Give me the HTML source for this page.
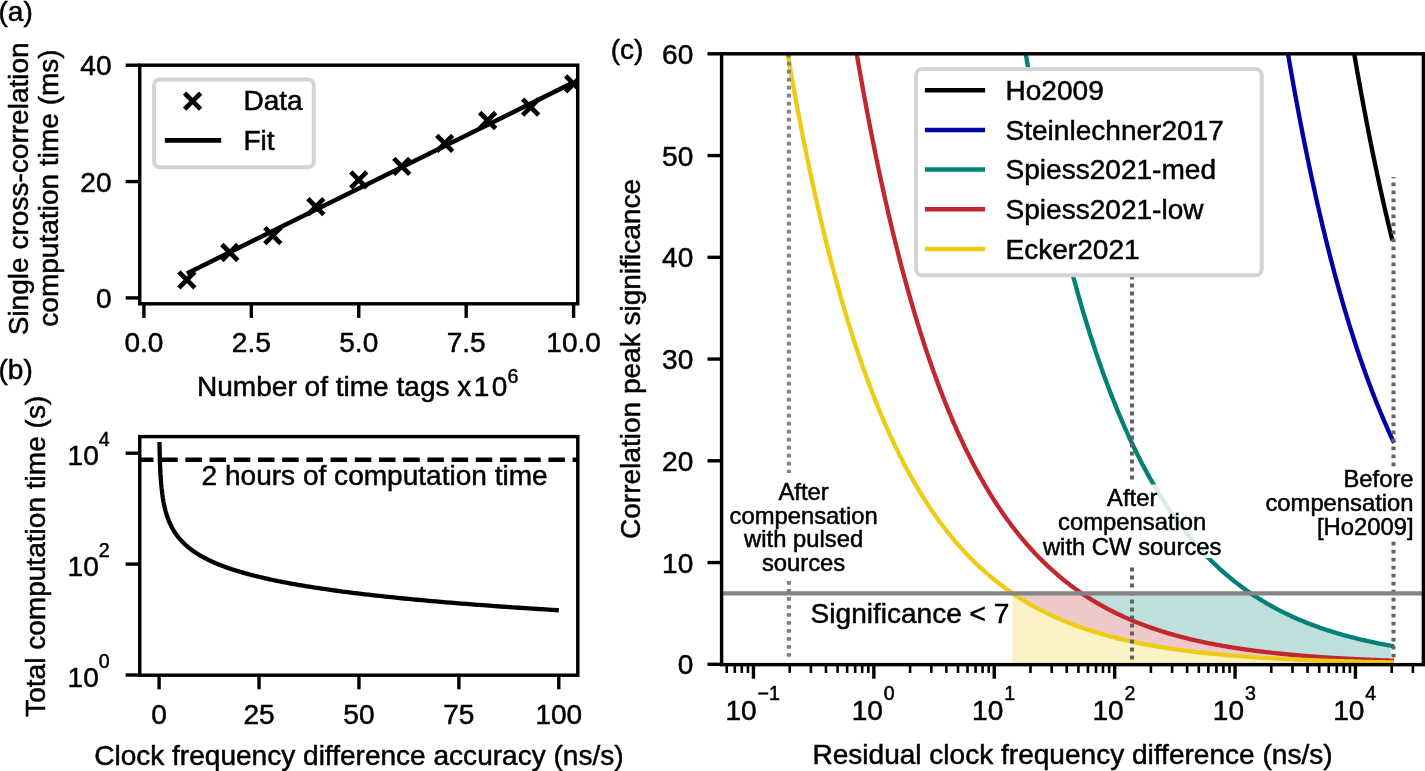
<!DOCTYPE html>
<html lang="en"><head><meta charset="utf-8"><title>Figure</title>
<style>
html,body{margin:0;padding:0;background:#fff;}
svg{display:block;will-change:transform;font-family:"Liberation Sans",sans-serif;fill:#000;}
text{stroke:#000;stroke-width:0.5px;}
</style></head><body>
<svg width="1425" height="771" viewBox="0 0 1425 771">
<rect width="1425" height="771" fill="#fff"/>
<g id="plot-a">
<clipPath id="ca"><rect x="139.75" y="65.2" width="437.95" height="238.60"/></clipPath><g clip-path="url(#ca)">
<line x1="186.87" y1="273.47" x2="573.60" y2="82.36" stroke="#000" stroke-width="4.5" />
<path d="M178.87 271.87L194.87 287.87M178.87 287.87L194.87 271.87" stroke="#000" stroke-width="4.7" fill="none"/>
<path d="M221.84 244.52L237.84 260.52M221.84 260.52L237.84 244.52" stroke="#000" stroke-width="4.7" fill="none"/>
<path d="M264.81 227.65L280.81 243.65M264.81 243.65L280.81 227.65" stroke="#000" stroke-width="4.7" fill="none"/>
<path d="M307.78 198.57L323.78 214.57M307.78 214.57L323.78 198.57" stroke="#000" stroke-width="4.7" fill="none"/>
<path d="M350.75 171.80L366.75 187.80M350.75 187.80L366.75 171.80" stroke="#000" stroke-width="4.7" fill="none"/>
<path d="M393.72 158.42L409.72 174.42M393.72 174.42L409.72 158.42" stroke="#000" stroke-width="4.7" fill="none"/>
<path d="M436.69 135.45L452.69 151.45M436.69 151.45L452.69 135.45" stroke="#000" stroke-width="4.7" fill="none"/>
<path d="M479.66 112.47L495.66 128.47M479.66 128.47L495.66 112.47" stroke="#000" stroke-width="4.7" fill="none"/>
<path d="M522.63 99.09L538.63 115.09M522.63 115.09L538.63 99.09" stroke="#000" stroke-width="4.7" fill="none"/>
<path d="M565.60 75.82L581.60 91.82M565.60 91.82L581.60 75.82" stroke="#000" stroke-width="4.7" fill="none"/>
</g>
<line x1="143.90" y1="303.80" x2="143.90" y2="317.90" stroke="#000" stroke-width="3.4" />
<text x="143.90" y="351.80" font-size="28.05" text-anchor="middle" >0.0</text>
<line x1="251.32" y1="303.80" x2="251.32" y2="317.90" stroke="#000" stroke-width="3.4" />
<text x="251.32" y="351.80" font-size="28.05" text-anchor="middle" >2.5</text>
<line x1="358.75" y1="303.80" x2="358.75" y2="317.90" stroke="#000" stroke-width="3.4" />
<text x="358.75" y="351.80" font-size="28.05" text-anchor="middle" >5.0</text>
<line x1="466.17" y1="303.80" x2="466.17" y2="317.90" stroke="#000" stroke-width="3.4" />
<text x="466.17" y="351.80" font-size="28.05" text-anchor="middle" >7.5</text>
<line x1="573.60" y1="303.80" x2="573.60" y2="317.90" stroke="#000" stroke-width="3.4" />
<text x="573.60" y="351.80" font-size="28.05" text-anchor="middle" >10.0</text>
<line x1="125.65" y1="297.90" x2="139.75" y2="297.90" stroke="#000" stroke-width="3.4" />
<text x="111.50" y="307.90" font-size="28.05" text-anchor="end" >0</text>
<line x1="125.65" y1="181.55" x2="139.75" y2="181.55" stroke="#000" stroke-width="3.4" />
<text x="111.50" y="191.55" font-size="28.05" text-anchor="end" >20</text>
<line x1="125.65" y1="65.20" x2="139.75" y2="65.20" stroke="#000" stroke-width="3.4" />
<text x="111.50" y="75.20" font-size="28.05" text-anchor="end" >40</text>
<rect x="139.75" y="65.2" width="437.95" height="238.60" fill="none" stroke="#000" stroke-width="3.45"/>
<rect x="154.0" y="79.4" width="159.8" height="87.9" rx="6" fill="#fff" stroke="#d3d3d3" stroke-width="4.0"/>
<path d="M184.60 93.10L200.60 109.10M184.60 109.10L200.60 93.10" stroke="#000" stroke-width="4.7" fill="none"/>
<line x1="164.80" y1="140.40" x2="221.20" y2="140.40" stroke="#000" stroke-width="4.9" />
<text x="243.40" y="110.30" font-size="28.05" text-anchor="start" >Data</text>
<text x="243.40" y="150.30" font-size="28.05" text-anchor="start" >Fit</text>
<text x="197" y="396.2" font-size="28.05">Number of time tags <tspan dx="0">x</tspan><tspan dx="2.5">1</tspan><tspan dx="2.2">0</tspan><tspan dx="0.3" dy="-12.8" font-size="19.6">6</tspan></text>
<text transform="translate(27.80,188.80) rotate(-90)" font-size="28.05" text-anchor="middle">Single cross-correlation</text>
<text transform="translate(58.40,188.00) rotate(-90)" font-size="28.05" text-anchor="middle">computation time (ms)</text>
<text x="-1.50" y="20.90" font-size="28.05" text-anchor="start" >(a)</text>
</g>
<g id="plot-b">
<clipPath id="cb"><rect x="139.75" y="436.6" width="438.05" height="238.60"/></clipPath>
<line x1="137.00" y1="459.80" x2="577.80" y2="459.80" stroke="#000" stroke-width="4.5" stroke-dasharray="16.5 7.7" clip-path="url(#cb)"/>
<polyline fill="none" stroke="#000" stroke-width="4.3" stroke-linejoin="round" points="159.47,441.98 159.48,442.40 159.48,442.82 159.49,443.24 159.50,443.66 159.50,444.09 159.51,444.51 159.52,444.93 159.52,445.35 159.53,445.77 159.54,446.19 159.55,446.61 159.55,447.03 159.56,447.45 159.57,447.87 159.58,448.29 159.59,448.71 159.60,449.13 159.61,449.55 159.61,449.98 159.62,450.40 159.63,450.82 159.64,451.24 159.65,451.66 159.66,452.08 159.67,452.50 159.68,452.92 159.69,453.34 159.70,453.76 159.71,454.18 159.72,454.60 159.73,455.02 159.74,455.44 159.76,455.87 159.77,456.29 159.78,456.71 159.79,457.13 159.80,457.55 159.82,457.97 159.83,458.39 159.84,458.81 159.85,459.23 159.87,459.65 159.88,460.07 159.90,460.49 159.91,460.91 159.92,461.33 159.94,461.76 159.95,462.18 159.97,462.60 159.98,463.02 160.00,463.44 160.01,463.86 160.03,464.28 160.05,464.70 160.06,465.12 160.08,465.54 160.10,465.96 160.12,466.38 160.13,466.80 160.15,467.23 160.17,467.65 160.19,468.07 160.21,468.49 160.23,468.91 160.25,469.33 160.27,469.75 160.29,470.17 160.31,470.59 160.33,471.01 160.35,471.43 160.37,471.85 160.40,472.27 160.42,472.69 160.44,473.12 160.47,473.54 160.49,473.96 160.52,474.38 160.54,474.80 160.57,475.22 160.59,475.64 160.62,476.06 160.64,476.48 160.67,476.90 160.70,477.32 160.73,477.74 160.76,478.16 160.79,478.58 160.82,479.01 160.85,479.43 160.88,479.85 160.91,480.27 160.94,480.69 160.97,481.11 161.01,481.53 161.04,481.95 161.07,482.37 161.11,482.79 161.14,483.21 161.18,483.63 161.22,484.05 161.25,484.47 161.29,484.90 161.33,485.32 161.37,485.74 161.41,486.16 161.45,486.58 161.49,487.00 161.53,487.42 161.58,487.84 161.62,488.26 161.66,488.68 161.71,489.10 161.76,489.52 161.80,489.94 161.85,490.37 161.90,490.79 161.95,491.21 162.00,491.63 162.05,492.05 162.10,492.47 162.15,492.89 162.21,493.31 162.26,493.73 162.32,494.15 162.37,494.57 162.43,494.99 162.49,495.41 162.55,495.83 162.61,496.26 162.67,496.68 162.74,497.10 162.80,497.52 162.87,497.94 162.93,498.36 163.00,498.78 163.07,499.20 163.14,499.62 163.21,500.04 163.28,500.46 163.36,500.88 163.43,501.30 163.51,501.72 163.58,502.15 163.66,502.57 163.74,502.99 163.83,503.41 163.91,503.83 163.99,504.25 164.08,504.67 164.17,505.09 164.26,505.51 164.35,505.93 164.44,506.35 164.54,506.77 164.63,507.19 164.73,507.61 164.83,508.04 164.93,508.46 165.03,508.88 165.14,509.30 165.24,509.72 165.35,510.14 165.46,510.56 165.57,510.98 165.69,511.40 165.80,511.82 165.92,512.24 166.04,512.66 166.16,513.08 166.29,513.51 166.41,513.93 166.54,514.35 166.67,514.77 166.81,515.19 166.94,515.61 167.08,516.03 167.22,516.45 167.37,516.87 167.51,517.29 167.66,517.71 167.81,518.13 167.96,518.55 168.12,518.97 168.28,519.40 168.44,519.82 168.61,520.24 168.77,520.66 168.94,521.08 169.12,521.50 169.29,521.92 169.47,522.34 169.66,522.76 169.84,523.18 170.03,523.60 170.22,524.02 170.42,524.44 170.62,524.86 170.82,525.29 171.03,525.71 171.24,526.13 171.45,526.55 171.67,526.97 171.89,527.39 172.12,527.81 172.35,528.23 172.58,528.65 172.82,529.07 173.06,529.49 173.31,529.91 173.56,530.33 173.81,530.75 174.07,531.18 174.34,531.60 174.60,532.02 174.88,532.44 175.16,532.86 175.44,533.28 175.73,533.70 176.02,534.12 176.32,534.54 176.62,534.96 176.93,535.38 177.24,535.80 177.56,536.22 177.89,536.65 178.22,537.07 178.56,537.49 178.90,537.91 179.25,538.33 179.60,538.75 179.97,539.17 180.33,539.59 180.71,540.01 181.09,540.43 181.48,540.85 181.87,541.27 182.27,541.69 182.68,542.11 183.10,542.54 183.52,542.96 183.95,543.38 184.39,543.80 184.83,544.22 185.29,544.64 185.75,545.06 186.22,545.48 186.70,545.90 187.18,546.32 187.68,546.74 188.18,547.16 188.69,547.58 189.22,548.00 189.75,548.43 190.29,548.85 190.84,549.27 191.39,549.69 191.96,550.11 192.54,550.53 193.13,550.95 193.73,551.37 194.34,551.79 194.96,552.21 195.60,552.63 196.24,553.05 196.89,553.47 197.56,553.89 198.24,554.32 198.93,554.74 199.63,555.16 200.34,555.58 201.07,556.00 201.81,556.42 202.56,556.84 203.33,557.26 204.11,557.68 204.90,558.10 205.71,558.52 206.53,558.94 207.37,559.36 208.22,559.79 209.08,560.21 209.96,560.63 210.86,561.05 211.77,561.47 212.70,561.89 213.65,562.31 214.61,562.73 215.59,563.15 216.58,563.57 217.59,563.99 218.62,564.41 219.67,564.83 220.74,565.25 221.83,565.68 222.93,566.10 224.06,566.52 225.20,566.94 226.37,567.36 227.55,567.78 228.76,568.20 229.99,568.62 231.24,569.04 232.51,569.46 233.80,569.88 235.12,570.30 236.46,570.72 237.82,571.14 239.21,571.57 240.62,571.99 242.06,572.41 243.52,572.83 245.01,573.25 246.52,573.67 248.06,574.09 249.63,574.51 251.23,574.93 252.85,575.35 254.50,575.77 256.18,576.19 257.89,576.61 259.64,577.03 261.41,577.46 263.21,577.88 265.05,578.30 266.91,578.72 268.81,579.14 270.75,579.56 272.71,579.98 274.72,580.40 276.75,580.82 278.83,581.24 280.94,581.66 283.09,582.08 285.27,582.50 287.49,582.93 289.76,583.35 292.06,583.77 294.40,584.19 296.79,584.61 299.21,585.03 301.68,585.45 304.20,585.87 306.75,586.29 309.36,586.71 312.00,587.13 314.70,587.55 317.44,587.97 320.23,588.39 323.07,588.82 325.96,589.24 328.90,589.66 331.90,590.08 334.94,590.50 338.04,590.92 341.19,591.34 344.40,591.76 347.67,592.18 350.99,592.60 354.38,593.02 357.82,593.44 361.32,593.86 364.88,594.28 368.51,594.71 372.20,595.13 375.96,595.55 379.78,595.97 383.67,596.39 387.63,596.81 391.65,597.23 395.75,597.65 399.92,598.07 404.17,598.49 408.49,598.91 412.88,599.33 417.35,599.75 421.91,600.17 426.54,600.60 431.25,601.02 436.05,601.44 440.93,601.86 445.90,602.28 450.95,602.70 456.09,603.12 461.33,603.54 466.65,603.96 472.07,604.38 477.59,604.80 483.20,605.22 488.92,605.64 494.73,606.06 500.64,606.49 506.66,606.91 512.79,607.33 519.02,607.75 525.37,608.17 531.82,608.59 538.39,609.01 545.07,609.43 551.88,609.85 558.80,610.27"/>
<line x1="159.10" y1="675.20" x2="159.10" y2="689.30" stroke="#000" stroke-width="3.4" />
<text x="159.10" y="723.60" font-size="28.05" text-anchor="middle" >0</text>
<line x1="259.02" y1="675.20" x2="259.02" y2="689.30" stroke="#000" stroke-width="3.4" />
<text x="259.02" y="723.60" font-size="28.05" text-anchor="middle" >25</text>
<line x1="358.95" y1="675.20" x2="358.95" y2="689.30" stroke="#000" stroke-width="3.4" />
<text x="358.95" y="723.60" font-size="28.05" text-anchor="middle" >50</text>
<line x1="458.88" y1="675.20" x2="458.88" y2="689.30" stroke="#000" stroke-width="3.4" />
<text x="458.88" y="723.60" font-size="28.05" text-anchor="middle" >75</text>
<line x1="558.80" y1="675.20" x2="558.80" y2="689.30" stroke="#000" stroke-width="3.4" />
<text x="558.80" y="723.60" font-size="28.05" text-anchor="middle" >100</text>
<line x1="125.65" y1="675.00" x2="139.75" y2="675.00" stroke="#000" stroke-width="3.4" />
<text x="98.8" y="687.00" font-size="28.05" text-anchor="end">10</text><text x="98.7" y="667.50" font-size="19.6">0</text>
<line x1="125.65" y1="564.10" x2="139.75" y2="564.10" stroke="#000" stroke-width="3.4" />
<text x="98.8" y="576.10" font-size="28.05" text-anchor="end">10</text><text x="98.7" y="556.60" font-size="19.6">2</text>
<line x1="125.65" y1="453.20" x2="139.75" y2="453.20" stroke="#000" stroke-width="3.4" />
<text x="98.8" y="465.20" font-size="28.05" text-anchor="end">10</text><text x="98.7" y="445.70" font-size="19.6">4</text>
<rect x="139.75" y="436.6" width="438.05" height="238.60" fill="none" stroke="#000" stroke-width="3.45"/>
<text x="201.60" y="485.20" font-size="28.05" text-anchor="start" >2 hours of computation time</text>
<text x="358.90" y="764.80" font-size="28.05" text-anchor="middle" >Clock frequency difference accuracy (ns/s)</text>
<text transform="translate(44.60,556.30) rotate(-90)" font-size="28.05" text-anchor="middle">Total computation time (s)</text>
<text x="-1.50" y="379.40" font-size="28.05" text-anchor="start" >(b)</text>
</g>
<g id="plot-c">
<clipPath id="cc"><rect x="721.6" y="53.8" width="701.80" height="610.85"/></clipPath>
<g clip-path="url(#cc)">
<polygon fill="#eecc16" fill-opacity="0.25" points="1012.32,593.07 717.33,593.07 718.45,593.07 719.57,593.07 720.70,593.07 721.82,593.07 722.94,593.07 724.06,593.07 725.19,593.07 726.31,593.07 727.43,593.07 728.55,593.07 729.68,593.07 730.80,593.07 731.92,593.07 733.04,593.07 734.16,593.07 735.29,593.07 736.41,593.07 737.53,593.07 738.65,593.07 739.78,593.07 740.90,593.07 742.02,593.07 743.14,593.07 744.26,593.07 745.39,593.07 746.51,593.07 747.63,593.07 748.75,593.07 749.88,593.07 751.00,593.07 752.12,593.07 753.24,593.07 754.37,593.07 755.49,593.07 756.61,593.07 757.73,593.07 758.85,593.07 759.98,593.07 761.10,593.07 762.22,593.07 763.34,593.07 764.47,593.07 765.59,593.07 766.71,593.07 767.83,593.07 768.96,593.07 770.08,593.07 771.20,593.07 772.32,593.07 773.44,593.07 774.57,593.07 775.69,593.07 776.81,593.07 777.93,593.07 779.06,593.07 780.18,593.07 781.30,593.07 782.42,593.07 783.54,593.07 784.67,593.07 785.79,593.07 786.91,593.07 788.03,593.07 789.16,593.07 790.28,593.07 791.40,593.07 792.52,593.07 793.65,593.07 794.77,593.07 795.89,593.07 797.01,593.07 798.13,593.07 799.26,593.07 800.38,593.07 801.50,593.07 802.62,593.07 803.75,593.07 804.87,593.07 805.99,593.07 807.11,593.07 808.23,593.07 809.36,593.07 810.48,593.07 811.60,593.07 812.72,593.07 813.85,593.07 814.97,593.07 816.09,593.07 817.21,593.07 818.34,593.07 819.46,593.07 820.58,593.07 821.70,593.07 822.82,593.07 823.95,593.07 825.07,593.07 826.19,593.07 827.31,593.07 828.44,593.07 829.56,593.07 830.68,593.07 831.80,593.07 832.93,593.07 834.05,593.07 835.17,593.07 836.29,593.07 837.41,593.07 838.54,593.07 839.66,593.07 840.78,593.07 841.90,593.07 843.03,593.07 844.15,593.07 845.27,593.07 846.39,593.07 847.51,593.07 848.64,593.07 849.76,593.07 850.88,593.07 852.00,593.07 853.13,593.07 854.25,593.07 855.37,593.07 856.49,593.07 857.62,593.07 858.74,593.07 859.86,593.07 860.98,593.07 862.10,593.07 863.23,593.07 864.35,593.07 865.47,593.07 866.59,593.07 867.72,593.07 868.84,593.07 869.96,593.07 871.08,593.07 872.21,593.07 873.33,593.07 874.45,593.07 875.57,593.07 876.69,593.07 877.82,593.07 878.94,593.07 880.06,593.07 881.18,593.07 882.31,593.07 883.43,593.07 884.55,593.07 885.67,593.07 886.79,593.07 887.92,593.07 889.04,593.07 890.16,593.07 891.28,593.07 892.41,593.07 893.53,593.07 894.65,593.07 895.77,593.07 896.90,593.07 898.02,593.07 899.14,593.07 900.26,593.07 901.38,593.07 902.51,593.07 903.63,593.07 904.75,593.07 905.87,593.07 907.00,593.07 908.12,593.07 909.24,593.07 910.36,593.07 911.49,593.07 912.61,593.07 913.73,593.07 914.85,593.07 915.97,593.07 917.10,593.07 918.22,593.07 919.34,593.07 920.46,593.07 921.59,593.07 922.71,593.07 923.83,593.07 924.95,593.07 926.07,593.07 927.20,593.07 928.32,593.07 929.44,593.07 930.56,593.07 931.69,593.07 932.81,593.07 933.93,593.07 935.05,593.07 936.18,593.07 937.30,593.07 938.42,593.07 939.54,593.07 940.66,593.07 941.79,593.07 942.91,593.07 944.03,593.07 945.15,593.07 946.28,593.07 947.40,593.07 948.52,593.07 949.64,593.07 950.76,593.07 951.89,593.07 953.01,593.07 954.13,593.07 955.25,593.07 956.38,593.07 957.50,593.07 958.62,593.07 959.74,593.07 960.87,593.07 961.99,593.07 963.11,593.07 964.23,593.07 965.35,593.07 966.48,593.07 967.60,593.07 968.72,593.07 969.84,593.07 970.97,593.07 972.09,593.07 973.21,593.07 974.33,593.07 975.46,593.07 976.58,593.07 977.70,593.07 978.82,593.07 979.94,593.07 981.07,593.07 982.19,593.07 983.31,593.07 984.43,593.07 985.56,593.07 986.68,593.07 987.80,593.07 988.92,593.07 990.04,593.07 991.17,593.07 992.29,593.07 993.41,593.07 994.53,593.07 995.66,593.07 996.78,593.07 997.90,593.07 999.02,593.07 1000.15,593.07 1001.27,593.07 1002.39,593.07 1003.51,593.07 1004.63,593.07 1005.76,593.07 1006.88,593.07 1008.00,593.07 1009.12,593.07 1010.25,593.07 1011.37,593.07 1012.49,593.19 1013.61,593.95 1014.74,594.70 1015.86,595.45 1016.98,596.18 1018.10,596.91 1019.22,597.63 1020.35,598.34 1021.47,599.04 1022.59,599.74 1023.71,600.43 1024.84,601.11 1025.96,601.79 1027.08,602.45 1028.20,603.11 1029.32,603.77 1030.45,604.41 1031.57,605.05 1032.69,605.68 1033.81,606.31 1034.94,606.93 1036.06,607.54 1037.18,608.15 1038.30,608.75 1039.43,609.34 1040.55,609.93 1041.67,610.51 1042.79,611.08 1043.91,611.65 1045.04,612.21 1046.16,612.77 1047.28,613.32 1048.40,613.86 1049.53,614.40 1050.65,614.93 1051.77,615.46 1052.89,615.98 1054.02,616.50 1055.14,617.01 1056.26,617.51 1057.38,618.01 1058.50,618.50 1059.63,618.99 1060.75,619.48 1061.87,619.96 1062.99,620.43 1064.12,620.90 1065.24,621.36 1066.36,621.82 1067.48,622.27 1068.60,622.72 1069.73,623.16 1070.85,623.60 1071.97,624.04 1073.09,624.47 1074.22,624.89 1075.34,625.31 1076.46,625.73 1077.58,626.14 1078.71,626.55 1079.83,626.95 1080.95,627.35 1082.07,627.75 1083.19,628.14 1084.32,628.52 1085.44,628.90 1086.56,629.28 1087.68,629.65 1088.81,630.02 1089.93,630.39 1091.05,630.75 1092.17,631.11 1093.29,631.46 1094.42,631.82 1095.54,632.16 1096.66,632.51 1097.78,632.84 1098.91,633.18 1100.03,633.51 1101.15,633.84 1102.27,634.17 1103.40,634.49 1104.52,634.81 1105.64,635.12 1106.76,635.43 1107.88,635.74 1109.01,636.05 1110.13,636.35 1111.25,636.65 1112.37,636.94 1113.50,637.23 1114.62,637.52 1115.74,637.81 1116.86,638.09 1117.99,638.37 1119.11,638.65 1120.23,638.92 1121.35,639.19 1122.47,639.46 1123.60,639.72 1124.72,639.99 1125.84,640.25 1126.96,640.50 1128.09,640.76 1129.21,641.01 1130.33,641.26 1131.45,641.50 1132.57,641.75 1133.70,641.99 1134.82,642.23 1135.94,642.46 1137.06,642.69 1138.19,642.92 1139.31,643.15 1140.43,643.38 1141.55,643.60 1142.68,643.82 1143.80,644.04 1144.92,644.26 1146.04,644.47 1147.16,644.68 1148.29,644.89 1149.41,645.10 1150.53,645.30 1151.65,645.51 1152.78,645.71 1153.90,645.91 1155.02,646.10 1156.14,646.30 1157.27,646.49 1158.39,646.68 1159.51,646.87 1160.63,647.05 1161.75,647.24 1162.88,647.42 1164.00,647.60 1165.12,647.78 1166.24,647.95 1167.37,648.13 1168.49,648.30 1169.61,648.47 1170.73,648.64 1171.85,648.81 1172.98,648.97 1174.10,649.14 1175.22,649.30 1176.34,649.46 1177.47,649.62 1178.59,649.77 1179.71,649.93 1180.83,650.08 1181.96,650.23 1183.08,650.38 1184.20,650.53 1185.32,650.68 1186.44,650.83 1187.57,650.97 1188.69,651.11 1189.81,651.25 1190.93,651.39 1192.06,651.53 1193.18,651.67 1194.30,651.80 1195.42,651.93 1196.54,652.07 1197.67,652.20 1198.79,652.33 1199.91,652.45 1201.03,652.58 1202.16,652.71 1203.28,652.83 1204.40,652.95 1205.52,653.07 1206.65,653.19 1207.77,653.31 1208.89,653.43 1210.01,653.54 1211.13,653.66 1212.26,653.77 1213.38,653.89 1214.50,654.00 1215.62,654.11 1216.75,654.22 1217.87,654.32 1218.99,654.43 1220.11,654.53 1221.24,654.64 1222.36,654.74 1223.48,654.84 1224.60,654.95 1225.72,655.04 1226.85,655.14 1227.97,655.24 1229.09,655.34 1230.21,655.43 1231.34,655.53 1232.46,655.62 1233.58,655.71 1234.70,655.81 1235.82,655.90 1236.95,655.99 1238.07,656.08 1239.19,656.16 1240.31,656.25 1241.44,656.34 1242.56,656.42 1243.68,656.51 1244.80,656.59 1245.93,656.67 1247.05,656.75 1248.17,656.83 1249.29,656.91 1250.41,656.99 1251.54,657.07 1252.66,657.15 1253.78,657.22 1254.90,657.30 1256.03,657.37 1257.15,657.45 1258.27,657.52 1259.39,657.59 1260.52,657.66 1261.64,657.73 1262.76,657.80 1263.88,657.87 1265.00,657.94 1266.13,658.01 1267.25,658.08 1268.37,658.14 1269.49,658.21 1270.62,658.27 1271.74,658.34 1272.86,658.40 1273.98,658.47 1275.10,658.53 1276.23,658.59 1277.35,658.65 1278.47,658.71 1279.59,658.77 1280.72,658.83 1281.84,658.89 1282.96,658.95 1284.08,659.00 1285.21,659.06 1286.33,659.12 1287.45,659.17 1288.57,659.23 1289.69,659.28 1290.82,659.33 1291.94,659.39 1293.06,659.44 1294.18,659.49 1295.31,659.54 1296.43,659.59 1297.55,659.64 1298.67,659.69 1299.80,659.74 1300.92,659.79 1302.04,659.84 1303.16,659.89 1304.28,659.93 1305.41,659.98 1306.53,660.03 1307.65,660.07 1308.77,660.12 1309.90,660.16 1311.02,660.21 1312.14,660.25 1313.26,660.29 1314.38,660.34 1315.51,660.38 1316.63,660.42 1317.75,660.46 1318.87,660.50 1320.00,660.54 1321.12,660.58 1322.24,660.62 1323.36,660.66 1324.49,660.70 1325.61,660.74 1326.73,660.78 1327.85,660.81 1328.97,660.85 1330.10,660.89 1331.22,660.92 1332.34,660.96 1333.46,661.00 1334.59,661.03 1335.71,661.07 1336.83,661.10 1337.95,661.14 1339.07,661.17 1340.20,661.20 1341.32,661.24 1342.44,661.27 1343.56,661.30 1344.69,661.33 1345.81,661.36 1346.93,661.40 1348.05,661.43 1349.18,661.46 1350.30,661.49 1351.42,661.52 1352.54,661.55 1353.66,661.58 1354.79,661.61 1355.91,661.63 1357.03,661.66 1358.15,661.69 1359.28,661.72 1360.40,661.75 1361.52,661.77 1362.64,661.80 1363.77,661.83 1364.89,661.85 1366.01,661.88 1367.13,661.91 1368.25,661.93 1369.38,661.96 1370.50,661.98 1371.62,662.01 1372.74,662.03 1373.87,662.06 1374.99,662.08 1376.11,662.10 1377.23,662.13 1378.35,662.15 1379.48,662.17 1380.60,662.20 1381.72,662.22 1382.84,662.24 1383.97,662.26 1385.09,662.28 1386.21,662.31 1387.33,662.33 1388.46,662.35 1389.58,662.37 1390.70,662.39 1390.70,664.30 1012.32,664.30"/>
<polygon fill="#c1272d" fill-opacity="0.25" points="1012.32,593.07 1012.49,593.07 1013.61,593.07 1014.74,593.07 1015.86,593.07 1016.98,593.07 1018.10,593.07 1019.22,593.07 1020.35,593.07 1021.47,593.07 1022.59,593.07 1023.71,593.07 1024.84,593.07 1025.96,593.07 1027.08,593.07 1028.20,593.07 1029.32,593.07 1030.45,593.07 1031.57,593.07 1032.69,593.07 1033.81,593.07 1034.94,593.07 1036.06,593.07 1037.18,593.07 1038.30,593.07 1039.43,593.07 1040.55,593.07 1041.67,593.07 1042.79,593.07 1043.91,593.07 1045.04,593.07 1046.16,593.07 1047.28,593.07 1048.40,593.07 1049.53,593.07 1050.65,593.07 1051.77,593.07 1052.89,593.07 1054.02,593.07 1055.14,593.07 1056.26,593.07 1057.38,593.07 1058.50,593.07 1059.63,593.07 1060.75,593.07 1061.87,593.07 1062.99,593.07 1064.12,593.07 1065.24,593.07 1066.36,593.07 1067.48,593.07 1068.60,593.07 1069.73,593.07 1070.85,593.07 1071.97,593.07 1073.09,593.07 1074.22,593.07 1075.34,593.07 1076.46,593.07 1077.58,593.07 1078.71,593.07 1079.83,593.07 1080.95,593.07 1082.07,593.54 1083.19,594.29 1084.32,595.04 1085.44,595.78 1086.56,596.51 1087.68,597.24 1088.81,597.95 1089.93,598.66 1091.05,599.36 1092.17,600.05 1093.29,600.74 1094.42,601.42 1095.54,602.09 1096.66,602.75 1097.78,603.41 1098.91,604.06 1100.03,604.70 1101.15,605.34 1102.27,605.97 1103.40,606.59 1104.52,607.21 1105.64,607.82 1106.76,608.42 1107.88,609.02 1109.01,609.61 1110.13,610.19 1111.25,610.77 1112.37,611.34 1113.50,611.90 1114.62,612.46 1115.74,613.02 1116.86,613.56 1117.99,614.11 1119.11,614.64 1120.23,615.17 1121.35,615.70 1122.47,616.21 1123.60,616.73 1124.72,617.24 1125.84,617.74 1126.96,618.23 1128.09,618.73 1129.21,619.21 1130.33,619.69 1131.45,620.17 1132.57,620.64 1133.70,621.11 1134.82,621.57 1135.94,622.02 1137.06,622.48 1138.19,622.92 1139.31,623.36 1140.43,623.80 1141.55,624.23 1142.68,624.66 1143.80,625.08 1144.92,625.50 1146.04,625.92 1147.16,626.33 1148.29,626.73 1149.41,627.13 1150.53,627.53 1151.65,627.92 1152.78,628.31 1153.90,628.69 1155.02,629.07 1156.14,629.45 1157.27,629.82 1158.39,630.19 1159.51,630.55 1160.63,630.91 1161.75,631.27 1162.88,631.62 1164.00,631.97 1165.12,632.32 1166.24,632.66 1167.37,633.00 1168.49,633.33 1169.61,633.66 1170.73,633.99 1171.85,634.31 1172.98,634.63 1174.10,634.95 1175.22,635.26 1176.34,635.57 1177.47,635.88 1178.59,636.18 1179.71,636.48 1180.83,636.78 1181.96,637.07 1183.08,637.36 1184.20,637.65 1185.32,637.94 1186.44,638.22 1187.57,638.50 1188.69,638.77 1189.81,639.04 1190.93,639.31 1192.06,639.58 1193.18,639.84 1194.30,640.10 1195.42,640.36 1196.54,640.62 1197.67,640.87 1198.79,641.12 1199.91,641.37 1201.03,641.61 1202.16,641.86 1203.28,642.10 1204.40,642.33 1205.52,642.57 1206.65,642.80 1207.77,643.03 1208.89,643.26 1210.01,643.48 1211.13,643.70 1212.26,643.92 1213.38,644.14 1214.50,644.35 1215.62,644.57 1216.75,644.78 1217.87,644.99 1218.99,645.19 1220.11,645.40 1221.24,645.60 1222.36,645.80 1223.48,646.00 1224.60,646.19 1225.72,646.38 1226.85,646.58 1227.97,646.76 1229.09,646.95 1230.21,647.14 1231.34,647.32 1232.46,647.50 1233.58,647.68 1234.70,647.86 1235.82,648.03 1236.95,648.21 1238.07,648.38 1239.19,648.55 1240.31,648.72 1241.44,648.88 1242.56,649.05 1243.68,649.21 1244.80,649.37 1245.93,649.53 1247.05,649.69 1248.17,649.84 1249.29,650.00 1250.41,650.15 1251.54,650.30 1252.66,650.45 1253.78,650.60 1254.90,650.75 1256.03,650.89 1257.15,651.03 1258.27,651.18 1259.39,651.32 1260.52,651.45 1261.64,651.59 1262.76,651.73 1263.88,651.86 1265.00,651.99 1266.13,652.13 1267.25,652.26 1268.37,652.38 1269.49,652.51 1270.62,652.64 1271.74,652.76 1272.86,652.88 1273.98,653.01 1275.10,653.13 1276.23,653.25 1277.35,653.36 1278.47,653.48 1279.59,653.60 1280.72,653.71 1281.84,653.82 1282.96,653.94 1284.08,654.05 1285.21,654.16 1286.33,654.26 1287.45,654.37 1288.57,654.48 1289.69,654.58 1290.82,654.69 1291.94,654.79 1293.06,654.89 1294.18,654.99 1295.31,655.09 1296.43,655.19 1297.55,655.29 1298.67,655.38 1299.80,655.48 1300.92,655.57 1302.04,655.66 1303.16,655.76 1304.28,655.85 1305.41,655.94 1306.53,656.03 1307.65,656.12 1308.77,656.20 1309.90,656.29 1311.02,656.37 1312.14,656.46 1313.26,656.54 1314.38,656.63 1315.51,656.71 1316.63,656.79 1317.75,656.87 1318.87,656.95 1320.00,657.03 1321.12,657.10 1322.24,657.18 1323.36,657.26 1324.49,657.33 1325.61,657.41 1326.73,657.48 1327.85,657.55 1328.97,657.62 1330.10,657.70 1331.22,657.77 1332.34,657.84 1333.46,657.91 1334.59,657.97 1335.71,658.04 1336.83,658.11 1337.95,658.17 1339.07,658.24 1340.20,658.30 1341.32,658.37 1342.44,658.43 1343.56,658.49 1344.69,658.56 1345.81,658.62 1346.93,658.68 1348.05,658.74 1349.18,658.80 1350.30,658.86 1351.42,658.91 1352.54,658.97 1353.66,659.03 1354.79,659.08 1355.91,659.14 1357.03,659.20 1358.15,659.25 1359.28,659.30 1360.40,659.36 1361.52,659.41 1362.64,659.46 1363.77,659.51 1364.89,659.57 1366.01,659.62 1367.13,659.67 1368.25,659.72 1369.38,659.76 1370.50,659.81 1371.62,659.86 1372.74,659.91 1373.87,659.95 1374.99,660.00 1376.11,660.05 1377.23,660.09 1378.35,660.14 1379.48,660.18 1380.60,660.23 1381.72,660.27 1382.84,660.31 1383.97,660.35 1385.09,660.40 1386.21,660.44 1387.33,660.48 1388.46,660.52 1389.58,660.56 1390.70,660.60 1390.70,662.39 1389.58,662.37 1388.46,662.35 1387.33,662.33 1386.21,662.31 1385.09,662.28 1383.97,662.26 1382.84,662.24 1381.72,662.22 1380.60,662.20 1379.48,662.17 1378.35,662.15 1377.23,662.13 1376.11,662.10 1374.99,662.08 1373.87,662.06 1372.74,662.03 1371.62,662.01 1370.50,661.98 1369.38,661.96 1368.25,661.93 1367.13,661.91 1366.01,661.88 1364.89,661.85 1363.77,661.83 1362.64,661.80 1361.52,661.77 1360.40,661.75 1359.28,661.72 1358.15,661.69 1357.03,661.66 1355.91,661.63 1354.79,661.61 1353.66,661.58 1352.54,661.55 1351.42,661.52 1350.30,661.49 1349.18,661.46 1348.05,661.43 1346.93,661.40 1345.81,661.36 1344.69,661.33 1343.56,661.30 1342.44,661.27 1341.32,661.24 1340.20,661.20 1339.07,661.17 1337.95,661.14 1336.83,661.10 1335.71,661.07 1334.59,661.03 1333.46,661.00 1332.34,660.96 1331.22,660.92 1330.10,660.89 1328.97,660.85 1327.85,660.81 1326.73,660.78 1325.61,660.74 1324.49,660.70 1323.36,660.66 1322.24,660.62 1321.12,660.58 1320.00,660.54 1318.87,660.50 1317.75,660.46 1316.63,660.42 1315.51,660.38 1314.38,660.34 1313.26,660.29 1312.14,660.25 1311.02,660.21 1309.90,660.16 1308.77,660.12 1307.65,660.07 1306.53,660.03 1305.41,659.98 1304.28,659.93 1303.16,659.89 1302.04,659.84 1300.92,659.79 1299.80,659.74 1298.67,659.69 1297.55,659.64 1296.43,659.59 1295.31,659.54 1294.18,659.49 1293.06,659.44 1291.94,659.39 1290.82,659.33 1289.69,659.28 1288.57,659.23 1287.45,659.17 1286.33,659.12 1285.21,659.06 1284.08,659.00 1282.96,658.95 1281.84,658.89 1280.72,658.83 1279.59,658.77 1278.47,658.71 1277.35,658.65 1276.23,658.59 1275.10,658.53 1273.98,658.47 1272.86,658.40 1271.74,658.34 1270.62,658.27 1269.49,658.21 1268.37,658.14 1267.25,658.08 1266.13,658.01 1265.00,657.94 1263.88,657.87 1262.76,657.80 1261.64,657.73 1260.52,657.66 1259.39,657.59 1258.27,657.52 1257.15,657.45 1256.03,657.37 1254.90,657.30 1253.78,657.22 1252.66,657.15 1251.54,657.07 1250.41,656.99 1249.29,656.91 1248.17,656.83 1247.05,656.75 1245.93,656.67 1244.80,656.59 1243.68,656.51 1242.56,656.42 1241.44,656.34 1240.31,656.25 1239.19,656.16 1238.07,656.08 1236.95,655.99 1235.82,655.90 1234.70,655.81 1233.58,655.71 1232.46,655.62 1231.34,655.53 1230.21,655.43 1229.09,655.34 1227.97,655.24 1226.85,655.14 1225.72,655.04 1224.60,654.95 1223.48,654.84 1222.36,654.74 1221.24,654.64 1220.11,654.53 1218.99,654.43 1217.87,654.32 1216.75,654.22 1215.62,654.11 1214.50,654.00 1213.38,653.89 1212.26,653.77 1211.13,653.66 1210.01,653.54 1208.89,653.43 1207.77,653.31 1206.65,653.19 1205.52,653.07 1204.40,652.95 1203.28,652.83 1202.16,652.71 1201.03,652.58 1199.91,652.45 1198.79,652.33 1197.67,652.20 1196.54,652.07 1195.42,651.93 1194.30,651.80 1193.18,651.67 1192.06,651.53 1190.93,651.39 1189.81,651.25 1188.69,651.11 1187.57,650.97 1186.44,650.83 1185.32,650.68 1184.20,650.53 1183.08,650.38 1181.96,650.23 1180.83,650.08 1179.71,649.93 1178.59,649.77 1177.47,649.62 1176.34,649.46 1175.22,649.30 1174.10,649.14 1172.98,648.97 1171.85,648.81 1170.73,648.64 1169.61,648.47 1168.49,648.30 1167.37,648.13 1166.24,647.95 1165.12,647.78 1164.00,647.60 1162.88,647.42 1161.75,647.24 1160.63,647.05 1159.51,646.87 1158.39,646.68 1157.27,646.49 1156.14,646.30 1155.02,646.10 1153.90,645.91 1152.78,645.71 1151.65,645.51 1150.53,645.30 1149.41,645.10 1148.29,644.89 1147.16,644.68 1146.04,644.47 1144.92,644.26 1143.80,644.04 1142.68,643.82 1141.55,643.60 1140.43,643.38 1139.31,643.15 1138.19,642.92 1137.06,642.69 1135.94,642.46 1134.82,642.23 1133.70,641.99 1132.57,641.75 1131.45,641.50 1130.33,641.26 1129.21,641.01 1128.09,640.76 1126.96,640.50 1125.84,640.25 1124.72,639.99 1123.60,639.72 1122.47,639.46 1121.35,639.19 1120.23,638.92 1119.11,638.65 1117.99,638.37 1116.86,638.09 1115.74,637.81 1114.62,637.52 1113.50,637.23 1112.37,636.94 1111.25,636.65 1110.13,636.35 1109.01,636.05 1107.88,635.74 1106.76,635.43 1105.64,635.12 1104.52,634.81 1103.40,634.49 1102.27,634.17 1101.15,633.84 1100.03,633.51 1098.91,633.18 1097.78,632.84 1096.66,632.51 1095.54,632.16 1094.42,631.82 1093.29,631.46 1092.17,631.11 1091.05,630.75 1089.93,630.39 1088.81,630.02 1087.68,629.65 1086.56,629.28 1085.44,628.90 1084.32,628.52 1083.19,628.14 1082.07,627.75 1080.95,627.35 1079.83,626.95 1078.71,626.55 1077.58,626.14 1076.46,625.73 1075.34,625.31 1074.22,624.89 1073.09,624.47 1071.97,624.04 1070.85,623.60 1069.73,623.16 1068.60,622.72 1067.48,622.27 1066.36,621.82 1065.24,621.36 1064.12,620.90 1062.99,620.43 1061.87,619.96 1060.75,619.48 1059.63,618.99 1058.50,618.50 1057.38,618.01 1056.26,617.51 1055.14,617.01 1054.02,616.50 1052.89,615.98 1051.77,615.46 1050.65,614.93 1049.53,614.40 1048.40,613.86 1047.28,613.32 1046.16,612.77 1045.04,612.21 1043.91,611.65 1042.79,611.08 1041.67,610.51 1040.55,609.93 1039.43,609.34 1038.30,608.75 1037.18,608.15 1036.06,607.54 1034.94,606.93 1033.81,606.31 1032.69,605.68 1031.57,605.05 1030.45,604.41 1029.32,603.77 1028.20,603.11 1027.08,602.45 1025.96,601.79 1024.84,601.11 1023.71,600.43 1022.59,599.74 1021.47,599.04 1020.35,598.34 1019.22,597.63 1018.10,596.91 1016.98,596.18 1015.86,595.45 1014.74,594.70 1013.61,593.95 1012.49,593.19"/>
<polygon fill="#008176" fill-opacity="0.25" points="1081.39,593.07 1082.07,593.07 1083.19,593.07 1084.32,593.07 1085.44,593.07 1086.56,593.07 1087.68,593.07 1088.81,593.07 1089.93,593.07 1091.05,593.07 1092.17,593.07 1093.29,593.07 1094.42,593.07 1095.54,593.07 1096.66,593.07 1097.78,593.07 1098.91,593.07 1100.03,593.07 1101.15,593.07 1102.27,593.07 1103.40,593.07 1104.52,593.07 1105.64,593.07 1106.76,593.07 1107.88,593.07 1109.01,593.07 1110.13,593.07 1111.25,593.07 1112.37,593.07 1113.50,593.07 1114.62,593.07 1115.74,593.07 1116.86,593.07 1117.99,593.07 1119.11,593.07 1120.23,593.07 1121.35,593.07 1122.47,593.07 1123.60,593.07 1124.72,593.07 1125.84,593.07 1126.96,593.07 1128.09,593.07 1129.21,593.07 1130.33,593.07 1131.45,593.07 1132.57,593.07 1133.70,593.07 1134.82,593.07 1135.94,593.07 1137.06,593.07 1138.19,593.07 1139.31,593.07 1140.43,593.07 1141.55,593.07 1142.68,593.07 1143.80,593.07 1144.92,593.07 1146.04,593.07 1147.16,593.07 1148.29,593.07 1149.41,593.07 1150.53,593.07 1151.65,593.07 1152.78,593.07 1153.90,593.07 1155.02,593.07 1156.14,593.07 1157.27,593.07 1158.39,593.07 1159.51,593.07 1160.63,593.07 1161.75,593.07 1162.88,593.07 1164.00,593.07 1165.12,593.07 1166.24,593.07 1167.37,593.07 1168.49,593.07 1169.61,593.07 1170.73,593.07 1171.85,593.07 1172.98,593.07 1174.10,593.07 1175.22,593.07 1176.34,593.07 1177.47,593.07 1178.59,593.07 1179.71,593.07 1180.83,593.07 1181.96,593.07 1183.08,593.07 1184.20,593.07 1185.32,593.07 1186.44,593.07 1187.57,593.07 1188.69,593.07 1189.81,593.07 1190.93,593.07 1192.06,593.07 1193.18,593.07 1194.30,593.07 1195.42,593.07 1196.54,593.07 1197.67,593.07 1198.79,593.07 1199.91,593.07 1201.03,593.07 1202.16,593.07 1203.28,593.07 1204.40,593.07 1205.52,593.07 1206.65,593.07 1207.77,593.07 1208.89,593.07 1210.01,593.07 1211.13,593.07 1212.26,593.07 1213.38,593.07 1214.50,593.07 1215.62,593.07 1216.75,593.07 1217.87,593.07 1218.99,593.07 1220.11,593.07 1221.24,593.07 1222.36,593.07 1223.48,593.07 1224.60,593.07 1225.72,593.07 1226.85,593.07 1227.97,593.07 1229.09,593.07 1230.21,593.07 1231.34,593.07 1232.46,593.07 1233.58,593.07 1234.70,593.07 1235.82,593.07 1236.95,593.07 1238.07,593.07 1239.19,593.07 1240.31,593.07 1241.44,593.07 1242.56,593.07 1243.68,593.07 1244.80,593.07 1245.93,593.07 1247.05,593.07 1248.17,593.07 1249.29,593.07 1250.41,593.07 1251.54,593.83 1252.66,594.59 1253.78,595.33 1254.90,596.07 1256.03,596.79 1257.15,597.51 1258.27,598.23 1259.39,598.93 1260.52,599.63 1261.64,600.32 1262.76,601.00 1263.88,601.68 1265.00,602.35 1266.13,603.01 1267.25,603.66 1268.37,604.31 1269.49,604.95 1270.62,605.58 1271.74,606.21 1272.86,606.83 1273.98,607.44 1275.10,608.05 1276.23,608.65 1277.35,609.25 1278.47,609.83 1279.59,610.41 1280.72,610.99 1281.84,611.56 1282.96,612.12 1284.08,612.68 1285.21,613.23 1286.33,613.78 1287.45,614.31 1288.57,614.85 1289.69,615.38 1290.82,615.90 1291.94,616.41 1293.06,616.93 1294.18,617.43 1295.31,617.93 1296.43,618.43 1297.55,618.92 1298.67,619.40 1299.80,619.88 1300.92,620.35 1302.04,620.82 1303.16,621.29 1304.28,621.75 1305.41,622.20 1306.53,622.65 1307.65,623.09 1308.77,623.53 1309.90,623.97 1311.02,624.40 1312.14,624.83 1313.26,625.25 1314.38,625.66 1315.51,626.08 1316.63,626.48 1317.75,626.89 1318.87,627.29 1320.00,627.68 1321.12,628.07 1322.24,628.46 1323.36,628.84 1324.49,629.22 1325.61,629.60 1326.73,629.97 1327.85,630.33 1328.97,630.70 1330.10,631.05 1331.22,631.41 1332.34,631.76 1333.46,632.11 1334.59,632.45 1335.71,632.79 1336.83,633.13 1337.95,633.46 1339.07,633.79 1340.20,634.11 1341.32,634.44 1342.44,634.76 1343.56,635.07 1344.69,635.38 1345.81,635.69 1346.93,636.00 1348.05,636.30 1349.18,636.60 1350.30,636.89 1351.42,637.19 1352.54,637.48 1353.66,637.76 1354.79,638.05 1355.91,638.33 1357.03,638.60 1358.15,638.88 1359.28,639.15 1360.40,639.42 1361.52,639.68 1362.64,639.95 1363.77,640.21 1364.89,640.46 1366.01,640.72 1367.13,640.97 1368.25,641.22 1369.38,641.46 1370.50,641.71 1371.62,641.95 1372.74,642.19 1373.87,642.42 1374.99,642.66 1376.11,642.89 1377.23,643.12 1378.35,643.34 1379.48,643.57 1380.60,643.79 1381.72,644.01 1382.84,644.22 1383.97,644.44 1385.09,644.65 1386.21,644.86 1387.33,645.07 1388.46,645.27 1389.58,645.48 1390.70,645.68 1390.70,660.60 1389.58,660.56 1388.46,660.52 1387.33,660.48 1386.21,660.44 1385.09,660.40 1383.97,660.35 1382.84,660.31 1381.72,660.27 1380.60,660.23 1379.48,660.18 1378.35,660.14 1377.23,660.09 1376.11,660.05 1374.99,660.00 1373.87,659.95 1372.74,659.91 1371.62,659.86 1370.50,659.81 1369.38,659.76 1368.25,659.72 1367.13,659.67 1366.01,659.62 1364.89,659.57 1363.77,659.51 1362.64,659.46 1361.52,659.41 1360.40,659.36 1359.28,659.30 1358.15,659.25 1357.03,659.20 1355.91,659.14 1354.79,659.08 1353.66,659.03 1352.54,658.97 1351.42,658.91 1350.30,658.86 1349.18,658.80 1348.05,658.74 1346.93,658.68 1345.81,658.62 1344.69,658.56 1343.56,658.49 1342.44,658.43 1341.32,658.37 1340.20,658.30 1339.07,658.24 1337.95,658.17 1336.83,658.11 1335.71,658.04 1334.59,657.97 1333.46,657.91 1332.34,657.84 1331.22,657.77 1330.10,657.70 1328.97,657.62 1327.85,657.55 1326.73,657.48 1325.61,657.41 1324.49,657.33 1323.36,657.26 1322.24,657.18 1321.12,657.10 1320.00,657.03 1318.87,656.95 1317.75,656.87 1316.63,656.79 1315.51,656.71 1314.38,656.63 1313.26,656.54 1312.14,656.46 1311.02,656.37 1309.90,656.29 1308.77,656.20 1307.65,656.12 1306.53,656.03 1305.41,655.94 1304.28,655.85 1303.16,655.76 1302.04,655.66 1300.92,655.57 1299.80,655.48 1298.67,655.38 1297.55,655.29 1296.43,655.19 1295.31,655.09 1294.18,654.99 1293.06,654.89 1291.94,654.79 1290.82,654.69 1289.69,654.58 1288.57,654.48 1287.45,654.37 1286.33,654.26 1285.21,654.16 1284.08,654.05 1282.96,653.94 1281.84,653.82 1280.72,653.71 1279.59,653.60 1278.47,653.48 1277.35,653.36 1276.23,653.25 1275.10,653.13 1273.98,653.01 1272.86,652.88 1271.74,652.76 1270.62,652.64 1269.49,652.51 1268.37,652.38 1267.25,652.26 1266.13,652.13 1265.00,651.99 1263.88,651.86 1262.76,651.73 1261.64,651.59 1260.52,651.45 1259.39,651.32 1258.27,651.18 1257.15,651.03 1256.03,650.89 1254.90,650.75 1253.78,650.60 1252.66,650.45 1251.54,650.30 1250.41,650.15 1249.29,650.00 1248.17,649.84 1247.05,649.69 1245.93,649.53 1244.80,649.37 1243.68,649.21 1242.56,649.05 1241.44,648.88 1240.31,648.72 1239.19,648.55 1238.07,648.38 1236.95,648.21 1235.82,648.03 1234.70,647.86 1233.58,647.68 1232.46,647.50 1231.34,647.32 1230.21,647.14 1229.09,646.95 1227.97,646.76 1226.85,646.58 1225.72,646.38 1224.60,646.19 1223.48,646.00 1222.36,645.80 1221.24,645.60 1220.11,645.40 1218.99,645.19 1217.87,644.99 1216.75,644.78 1215.62,644.57 1214.50,644.35 1213.38,644.14 1212.26,643.92 1211.13,643.70 1210.01,643.48 1208.89,643.26 1207.77,643.03 1206.65,642.80 1205.52,642.57 1204.40,642.33 1203.28,642.10 1202.16,641.86 1201.03,641.61 1199.91,641.37 1198.79,641.12 1197.67,640.87 1196.54,640.62 1195.42,640.36 1194.30,640.10 1193.18,639.84 1192.06,639.58 1190.93,639.31 1189.81,639.04 1188.69,638.77 1187.57,638.50 1186.44,638.22 1185.32,637.94 1184.20,637.65 1183.08,637.36 1181.96,637.07 1180.83,636.78 1179.71,636.48 1178.59,636.18 1177.47,635.88 1176.34,635.57 1175.22,635.26 1174.10,634.95 1172.98,634.63 1171.85,634.31 1170.73,633.99 1169.61,633.66 1168.49,633.33 1167.37,633.00 1166.24,632.66 1165.12,632.32 1164.00,631.97 1162.88,631.62 1161.75,631.27 1160.63,630.91 1159.51,630.55 1158.39,630.19 1157.27,629.82 1156.14,629.45 1155.02,629.07 1153.90,628.69 1152.78,628.31 1151.65,627.92 1150.53,627.53 1149.41,627.13 1148.29,626.73 1147.16,626.33 1146.04,625.92 1144.92,625.50 1143.80,625.08 1142.68,624.66 1141.55,624.23 1140.43,623.80 1139.31,623.36 1138.19,622.92 1137.06,622.48 1135.94,622.02 1134.82,621.57 1133.70,621.11 1132.57,620.64 1131.45,620.17 1130.33,619.69 1129.21,619.21 1128.09,618.73 1126.96,618.23 1125.84,617.74 1124.72,617.24 1123.60,616.73 1122.47,616.21 1121.35,615.70 1120.23,615.17 1119.11,614.64 1117.99,614.11 1116.86,613.56 1115.74,613.02 1114.62,612.46 1113.50,611.90 1112.37,611.34 1111.25,610.77 1110.13,610.19 1109.01,609.61 1107.88,609.02 1106.76,608.42 1105.64,607.82 1104.52,607.21 1103.40,606.59 1102.27,605.97 1101.15,605.34 1100.03,604.70 1098.91,604.06 1097.78,603.41 1096.66,602.75 1095.54,602.09 1094.42,601.42 1093.29,600.74 1092.17,600.05 1091.05,599.36 1089.93,598.66 1088.81,597.95 1087.68,597.24 1086.56,596.51 1085.44,595.78 1084.32,595.04 1083.19,594.29 1082.07,593.54"/>
<polyline fill="none" stroke="#000000" stroke-width="4.35" stroke-linejoin="round" points="1338.39,-45.96 1339.52,-38.36 1340.64,-30.84 1341.77,-23.40 1342.89,-16.04 1344.02,-8.76 1345.15,-1.56 1346.27,5.56 1347.40,12.61 1348.52,19.59 1349.65,26.49 1350.77,33.31 1351.90,40.06 1353.02,46.74 1354.15,53.35 1355.27,59.89 1356.40,66.36 1357.52,72.76 1358.65,79.09 1359.77,85.35 1360.90,91.54 1362.02,97.67 1363.15,103.74 1364.27,109.73 1365.40,115.67 1366.52,121.54 1367.65,127.35 1368.77,133.09 1369.90,138.78 1371.02,144.40 1372.15,149.97 1373.27,155.47 1374.40,160.91 1375.52,166.30 1376.65,171.63 1377.77,176.90 1378.90,182.12 1380.02,187.28 1381.15,192.38 1382.27,197.43 1383.40,202.43 1384.52,207.37 1385.65,212.26 1386.77,217.10 1387.90,221.88 1389.02,226.62 1390.15,231.30 1391.27,235.93 1392.40,240.52"/>
<polyline fill="none" stroke="#0000a7" stroke-width="4.35" stroke-linejoin="round" points="1272.20,-45.53 1273.33,-37.92 1274.45,-30.39 1275.58,-22.94 1276.71,-15.56 1277.84,-8.27 1278.97,-1.06 1280.09,6.08 1281.22,13.14 1282.35,20.12 1283.48,27.03 1284.61,33.87 1285.73,40.63 1286.86,47.32 1287.99,53.94 1289.12,60.48 1290.24,66.96 1291.37,73.37 1292.50,79.71 1293.63,85.98 1294.76,92.18 1295.88,98.32 1297.01,104.39 1298.14,110.39 1299.27,116.34 1300.39,122.21 1301.52,128.03 1302.65,133.78 1303.78,139.47 1304.91,145.10 1306.03,150.67 1307.16,156.18 1308.29,161.63 1309.42,167.02 1310.54,172.35 1311.67,177.63 1312.80,182.85 1313.93,188.01 1315.06,193.12 1316.18,198.18 1317.31,203.18 1318.44,208.12 1319.57,213.02 1320.69,217.86 1321.82,222.65 1322.95,227.38 1324.08,232.07 1325.21,236.71 1326.33,241.29 1327.46,245.83 1328.59,250.32 1329.72,254.76 1330.84,259.15 1331.97,263.50 1333.10,267.80 1334.23,272.05 1335.36,276.26 1336.48,280.42 1337.61,284.54 1338.74,288.61 1339.87,292.64 1340.99,296.63 1342.12,300.57 1343.25,304.47 1344.38,308.33 1345.51,312.15 1346.63,315.93 1347.76,319.66 1348.89,323.36 1350.02,327.02 1351.14,330.63 1352.27,334.21 1353.40,337.75 1354.53,341.26 1355.66,344.72 1356.78,348.15 1357.91,351.54 1359.04,354.89 1360.17,358.21 1361.29,361.50 1362.42,364.74 1363.55,367.96 1364.68,371.14 1365.81,374.28 1366.93,377.39 1368.06,380.47 1369.19,383.51 1370.32,386.53 1371.44,389.50 1372.57,392.45 1373.70,395.37 1374.83,398.25 1375.96,401.11 1377.08,403.93 1378.21,406.72 1379.34,409.48 1380.47,412.22 1381.59,414.92 1382.72,417.60 1383.85,420.24 1384.98,422.86 1386.11,425.45 1387.23,428.01 1388.36,430.55 1389.49,433.05 1390.62,435.53 1391.74,437.99 1392.87,440.42 1394.00,442.82"/>
<polyline fill="none" stroke="#008176" stroke-width="4.35" stroke-linejoin="round" points="1010.55,-41.60 1011.68,-34.03 1012.81,-26.54 1013.94,-19.13 1015.06,-11.80 1016.19,-4.55 1017.32,2.62 1018.45,9.72 1019.58,16.74 1020.70,23.69 1021.83,30.56 1022.96,37.36 1024.09,44.08 1025.21,50.73 1026.34,57.32 1027.47,63.83 1028.60,70.27 1029.73,76.64 1030.85,82.94 1031.98,89.18 1033.11,95.35 1034.24,101.45 1035.36,107.49 1036.49,113.46 1037.62,119.37 1038.75,125.21 1039.88,131.00 1041.00,136.72 1042.13,142.37 1043.26,147.97 1044.39,153.51 1045.51,158.99 1046.64,164.41 1047.77,169.77 1048.90,175.08 1050.03,180.32 1051.15,185.51 1052.28,190.65 1053.41,195.73 1054.54,200.76 1055.66,205.73 1056.79,210.65 1057.92,215.51 1059.05,220.33 1060.18,225.09 1061.30,229.80 1062.43,234.46 1063.56,239.07 1064.69,243.63 1065.82,248.14 1066.94,252.61 1068.07,257.02 1069.20,261.39 1070.33,265.71 1071.45,269.99 1072.58,274.22 1073.71,278.40 1074.84,282.54 1075.97,286.64 1077.09,290.69 1078.22,294.70 1079.35,298.66 1080.48,302.58 1081.60,306.46 1082.73,310.30 1083.86,314.10 1084.99,317.85 1086.12,321.57 1087.24,325.25 1088.37,328.88 1089.50,332.48 1090.63,336.04 1091.75,339.56 1092.88,343.04 1094.01,346.49 1095.14,349.90 1096.27,353.27 1097.39,356.61 1098.52,359.91 1099.65,363.17 1100.78,366.40 1101.90,369.60 1103.03,372.76 1104.16,375.89 1105.29,378.98 1106.42,382.04 1107.54,385.07 1108.67,388.06 1109.80,391.03 1110.93,393.96 1112.05,396.86 1113.18,399.72 1114.31,402.56 1115.44,405.37 1116.57,408.15 1117.69,410.90 1118.82,413.61 1119.95,416.30 1121.08,418.96 1122.20,421.59 1123.33,424.20 1124.46,426.77 1125.59,429.32 1126.72,431.84 1127.84,434.33 1128.97,436.80 1130.10,439.24 1131.23,441.65 1132.35,444.04 1133.48,446.41 1134.61,448.74 1135.74,451.05 1136.87,453.34 1137.99,455.60 1139.12,457.84 1140.25,460.06 1141.38,462.25 1142.50,464.42 1143.63,466.56 1144.76,468.68 1145.89,470.78 1147.02,472.85 1148.14,474.91 1149.27,476.94 1150.40,478.95 1151.53,480.94 1152.65,482.90 1153.78,484.85 1154.91,486.77 1156.04,488.68 1157.17,490.56 1158.29,492.43 1159.42,494.27 1160.55,496.09 1161.68,497.90 1162.80,499.68 1163.93,501.45 1165.06,503.20 1166.19,504.92 1167.32,506.63 1168.44,508.32 1169.57,510.00 1170.70,511.65 1171.83,513.29 1172.95,514.91 1174.08,516.51 1175.21,518.10 1176.34,519.66 1177.47,521.22 1178.59,522.75 1179.72,524.27 1180.85,525.77 1181.98,527.26 1183.10,528.73 1184.23,530.18 1185.36,531.62 1186.49,533.04 1187.62,534.45 1188.74,535.84 1189.87,537.22 1191.00,538.58 1192.13,539.93 1193.25,541.27 1194.38,542.59 1195.51,543.89 1196.64,545.18 1197.77,546.46 1198.89,547.73 1200.02,548.98 1201.15,550.21 1202.28,551.44 1203.40,552.65 1204.53,553.84 1205.66,555.03 1206.79,556.20 1207.92,557.36 1209.04,558.51 1210.17,559.64 1211.30,560.77 1212.43,561.88 1213.55,562.97 1214.68,564.06 1215.81,565.14 1216.94,566.20 1218.07,567.25 1219.19,568.29 1220.32,569.32 1221.45,570.34 1222.58,571.35 1223.70,572.35 1224.83,573.33 1225.96,574.31 1227.09,575.27 1228.22,576.23 1229.34,577.17 1230.47,578.11 1231.60,579.03 1232.73,579.95 1233.85,580.85 1234.98,581.75 1236.11,582.63 1237.24,583.51 1238.37,584.38 1239.49,585.23 1240.62,586.08 1241.75,586.92 1242.88,587.75 1244.00,588.57 1245.13,589.38 1246.26,590.19 1247.39,590.98 1248.52,591.77 1249.64,592.55 1250.77,593.32 1251.90,594.08 1253.03,594.83 1254.15,595.58 1255.28,596.31 1256.41,597.04 1257.54,597.76 1258.67,598.48 1259.79,599.18 1260.92,599.88 1262.05,600.57 1263.18,601.26 1264.30,601.93 1265.43,602.60 1266.56,603.26 1267.69,603.92 1268.82,604.57 1269.94,605.21 1271.07,605.84 1272.20,606.47 1273.33,607.09 1274.45,607.70 1275.58,608.31 1276.71,608.91 1277.84,609.50 1278.97,610.09 1280.09,610.67 1281.22,611.25 1282.35,611.82 1283.48,612.38 1284.61,612.94 1285.73,613.49 1286.86,614.03 1287.99,614.57 1289.12,615.10 1290.24,615.63 1291.37,616.15 1292.50,616.67 1293.63,617.18 1294.76,617.69 1295.88,618.19 1297.01,618.68 1298.14,619.17 1299.27,619.65 1300.39,620.13 1301.52,620.61 1302.65,621.08 1303.78,621.54 1304.91,622.00 1306.03,622.45 1307.16,622.90 1308.29,623.35 1309.42,623.78 1310.54,624.22 1311.67,624.65 1312.80,625.07 1313.93,625.49 1315.06,625.91 1316.18,626.32 1317.31,626.73 1318.44,627.13 1319.57,627.53 1320.69,627.93 1321.82,628.32 1322.95,628.70 1324.08,629.08 1325.21,629.46 1326.33,629.84 1327.46,630.21 1328.59,630.57 1329.72,630.93 1330.84,631.29 1331.97,631.64 1333.10,632.00 1334.23,632.34 1335.36,632.68 1336.48,633.02 1337.61,633.36 1338.74,633.69 1339.87,634.02 1340.99,634.34 1342.12,634.67 1343.25,634.98 1344.38,635.30 1345.51,635.61 1346.63,635.92 1347.76,636.22 1348.89,636.52 1350.02,636.82 1351.14,637.11 1352.27,637.41 1353.40,637.69 1354.53,637.98 1355.66,638.26 1356.78,638.54 1357.91,638.82 1359.04,639.09 1360.17,639.36 1361.29,639.63 1362.42,639.89 1363.55,640.16 1364.68,640.41 1365.81,640.67 1366.93,640.92 1368.06,641.18 1369.19,641.42 1370.32,641.67 1371.44,641.91 1372.57,642.15 1373.70,642.39 1374.83,642.62 1375.96,642.86 1377.08,643.09 1378.21,643.31 1379.34,643.54 1380.47,643.76 1381.59,643.98 1382.72,644.20 1383.85,644.42 1384.98,644.63 1386.11,644.84 1387.23,645.05 1388.36,645.26 1389.49,645.46 1390.62,645.66 1391.74,645.86 1392.87,646.06 1394.00,646.25"/>
<polyline fill="none" stroke="#c1272d" stroke-width="4.35" stroke-linejoin="round" points="841.39,-42.55 842.51,-34.96 843.64,-27.46 844.77,-20.04 845.90,-12.70 847.03,-5.44 848.15,1.74 849.28,8.85 850.41,15.88 851.54,22.83 852.66,29.71 853.79,36.52 854.92,43.26 856.05,49.92 857.18,56.51 858.30,63.03 859.43,69.48 860.56,75.86 861.69,82.17 862.81,88.41 863.94,94.59 865.07,100.70 866.20,106.74 867.33,112.73 868.45,118.64 869.58,124.49 870.71,130.28 871.84,136.01 872.96,141.68 874.09,147.28 875.22,152.83 876.35,158.32 877.48,163.74 878.60,169.11 879.73,174.42 880.86,179.68 881.99,184.88 883.11,190.02 884.24,195.11 885.37,200.14 886.50,205.12 887.63,210.04 888.75,214.92 889.88,219.74 891.01,224.50 892.14,229.22 893.26,233.89 894.39,238.50 895.52,243.07 896.65,247.59 897.78,252.06 898.90,256.48 900.03,260.86 901.16,265.18 902.29,269.46 903.41,273.70 904.54,277.89 905.67,282.03 906.80,286.13 907.93,290.19 909.05,294.20 910.18,298.17 911.31,302.10 912.44,305.98 913.56,309.83 914.69,313.63 915.82,317.39 916.95,321.11 918.08,324.79 919.20,328.44 920.33,332.04 921.46,335.60 922.59,339.13 923.71,342.62 924.84,346.07 925.97,349.48 927.10,352.86 928.23,356.20 929.35,359.50 930.48,362.77 931.61,366.01 932.74,369.20 933.86,372.37 934.99,375.50 936.12,378.60 937.25,381.66 938.38,384.70 939.50,387.69 940.63,390.66 941.76,393.60 942.89,396.50 944.01,399.37 945.14,402.21 946.27,405.03 947.40,407.81 948.53,410.56 949.65,413.28 950.78,415.97 951.91,418.64 953.04,421.27 954.16,423.88 955.29,426.46 956.42,429.01 957.55,431.53 958.68,434.03 959.80,436.50 960.93,438.94 962.06,441.36 963.19,443.75 964.31,446.12 965.44,448.46 966.57,450.77 967.70,453.06 968.83,455.33 969.95,457.57 971.08,459.79 972.21,461.98 973.34,464.15 974.46,466.30 975.59,468.42 976.72,470.52 977.85,472.60 978.98,474.66 980.10,476.69 981.23,478.70 982.36,480.69 983.49,482.66 984.61,484.61 985.74,486.54 986.87,488.44 988.00,490.33 989.13,492.20 990.25,494.04 991.38,495.87 992.51,497.68 993.64,499.46 994.76,501.23 995.89,502.98 997.02,504.71 998.15,506.42 999.28,508.12 1000.40,509.79 1001.53,511.45 1002.66,513.09 1003.79,514.71 1004.91,516.31 1006.04,517.90 1007.17,519.47 1008.30,521.03 1009.43,522.56 1010.55,524.08 1011.68,525.59 1012.81,527.07 1013.94,528.55 1015.06,530.00 1016.19,531.44 1017.32,532.87 1018.45,534.28 1019.58,535.67 1020.70,537.05 1021.83,538.42 1022.96,539.77 1024.09,541.10 1025.21,542.42 1026.34,543.73 1027.47,545.02 1028.60,546.30 1029.73,547.57 1030.85,548.82 1031.98,550.06 1033.11,551.29 1034.24,552.50 1035.36,553.70 1036.49,554.88 1037.62,556.06 1038.75,557.22 1039.88,558.37 1041.00,559.50 1042.13,560.63 1043.26,561.74 1044.39,562.84 1045.51,563.93 1046.64,565.00 1047.77,566.07 1048.90,567.12 1050.03,568.17 1051.15,569.20 1052.28,570.22 1053.41,571.23 1054.54,572.22 1055.66,573.21 1056.79,574.19 1057.92,575.16 1059.05,576.11 1060.18,577.06 1061.30,577.99 1062.43,578.92 1063.56,579.83 1064.69,580.74 1065.82,581.64 1066.94,582.52 1068.07,583.40 1069.20,584.27 1070.33,585.13 1071.45,585.98 1072.58,586.82 1073.71,587.65 1074.84,588.47 1075.97,589.28 1077.09,590.09 1078.22,590.88 1079.35,591.67 1080.48,592.45 1081.60,593.22 1082.73,593.98 1083.86,594.74 1084.99,595.48 1086.12,596.22 1087.24,596.95 1088.37,597.67 1089.50,598.39 1090.63,599.10 1091.75,599.80 1092.88,600.49 1094.01,601.17 1095.14,601.85 1096.27,602.52 1097.39,603.18 1098.52,603.84 1099.65,604.49 1100.78,605.13 1101.90,605.76 1103.03,606.39 1104.16,607.01 1105.29,607.63 1106.42,608.23 1107.54,608.83 1108.67,609.43 1109.80,610.02 1110.93,610.60 1112.05,611.18 1113.18,611.75 1114.31,612.31 1115.44,612.87 1116.57,613.42 1117.69,613.96 1118.82,614.50 1119.95,615.04 1121.08,615.57 1122.20,616.09 1123.33,616.61 1124.46,617.12 1125.59,617.62 1126.72,618.13 1127.84,618.62 1128.97,619.11 1130.10,619.60 1131.23,620.07 1132.35,620.55 1133.48,621.02 1134.61,621.48 1135.74,621.94 1136.87,622.40 1137.99,622.85 1139.12,623.29 1140.25,623.73 1141.38,624.17 1142.50,624.60 1143.63,625.02 1144.76,625.44 1145.89,625.86 1147.02,626.27 1148.14,626.68 1149.27,627.08 1150.40,627.48 1151.53,627.88 1152.65,628.27 1153.78,628.65 1154.91,629.04 1156.04,629.42 1157.17,629.79 1158.29,630.16 1159.42,630.53 1160.55,630.89 1161.68,631.25 1162.80,631.60 1163.93,631.95 1165.06,632.30 1166.19,632.64 1167.32,632.98 1168.44,633.32 1169.57,633.65 1170.70,633.98 1171.83,634.30 1172.95,634.63 1174.08,634.94 1175.21,635.26 1176.34,635.57 1177.47,635.88 1178.59,636.18 1179.72,636.49 1180.85,636.78 1181.98,637.08 1183.10,637.37 1184.23,637.66 1185.36,637.95 1186.49,638.23 1187.62,638.51 1188.74,638.78 1189.87,639.06 1191.00,639.33 1192.13,639.60 1193.25,639.86 1194.38,640.12 1195.51,640.38 1196.64,640.64 1197.77,640.89 1198.89,641.14 1200.02,641.39 1201.15,641.64 1202.28,641.88 1203.40,642.12 1204.53,642.36 1205.66,642.60 1206.79,642.83 1207.92,643.06 1209.04,643.29 1210.17,643.51 1211.30,643.73 1212.43,643.95 1213.55,644.17 1214.68,644.39 1215.81,644.60 1216.94,644.81 1218.07,645.02 1219.19,645.23 1220.32,645.43 1221.45,645.64 1222.58,645.84 1223.70,646.03 1224.83,646.23 1225.96,646.42 1227.09,646.62 1228.22,646.81 1229.34,646.99 1230.47,647.18 1231.60,647.36 1232.73,647.54 1233.85,647.72 1234.98,647.90 1236.11,648.08 1237.24,648.25 1238.37,648.42 1239.49,648.59 1240.62,648.76 1241.75,648.93 1242.88,649.09 1244.00,649.26 1245.13,649.42 1246.26,649.58 1247.39,649.74 1248.52,649.89 1249.64,650.05 1250.77,650.20 1251.90,650.35 1253.03,650.50 1254.15,650.65 1255.28,650.80 1256.41,650.94 1257.54,651.08 1258.67,651.23 1259.79,651.37 1260.92,651.50 1262.05,651.64 1263.18,651.78 1264.30,651.91 1265.43,652.04 1266.56,652.18 1267.69,652.31 1268.82,652.43 1269.94,652.56 1271.07,652.69 1272.20,652.81 1273.33,652.94 1274.45,653.06 1275.58,653.18 1276.71,653.30 1277.84,653.42 1278.97,653.53 1280.09,653.65 1281.22,653.76 1282.35,653.87 1283.48,653.99 1284.61,654.10 1285.73,654.21 1286.86,654.32 1287.99,654.42 1289.12,654.53 1290.24,654.63 1291.37,654.74 1292.50,654.84 1293.63,654.94 1294.76,655.04 1295.88,655.14 1297.01,655.24 1298.14,655.34 1299.27,655.43 1300.39,655.53 1301.52,655.62 1302.65,655.71 1303.78,655.81 1304.91,655.90 1306.03,655.99 1307.16,656.08 1308.29,656.16 1309.42,656.25 1310.54,656.34 1311.67,656.42 1312.80,656.51 1313.93,656.59 1315.06,656.67 1316.18,656.76 1317.31,656.84 1318.44,656.92 1319.57,657.00 1320.69,657.07 1321.82,657.15 1322.95,657.23 1324.08,657.30 1325.21,657.38 1326.33,657.45 1327.46,657.53 1328.59,657.60 1329.72,657.67 1330.84,657.74 1331.97,657.81 1333.10,657.88 1334.23,657.95 1335.36,658.02 1336.48,658.09 1337.61,658.15 1338.74,658.22 1339.87,658.29 1340.99,658.35 1342.12,658.41 1343.25,658.48 1344.38,658.54 1345.51,658.60 1346.63,658.66 1347.76,658.72 1348.89,658.78 1350.02,658.84 1351.14,658.90 1352.27,658.96 1353.40,659.02 1354.53,659.07 1355.66,659.13 1356.78,659.18 1357.91,659.24 1359.04,659.29 1360.17,659.35 1361.29,659.40 1362.42,659.45 1363.55,659.50 1364.68,659.56 1365.81,659.61 1366.93,659.66 1368.06,659.71 1369.19,659.76 1370.32,659.80 1371.44,659.85 1372.57,659.90 1373.70,659.95 1374.83,659.99 1375.96,660.04 1377.08,660.09 1378.21,660.13 1379.34,660.18 1380.47,660.22 1381.59,660.26 1382.72,660.31 1383.85,660.35 1384.98,660.39 1386.11,660.43 1387.23,660.48 1388.36,660.52 1389.49,660.56 1390.62,660.60 1391.74,660.64 1392.87,660.68 1394.00,660.72"/>
<polyline fill="none" stroke="#eecc16" stroke-width="4.35" stroke-linejoin="round" points="772.59,-40.66 773.72,-33.10 774.85,-25.62 775.97,-18.22 777.10,-10.90 778.23,-3.65 779.36,3.51 780.49,10.60 781.61,17.61 782.74,24.55 783.87,31.41 785.00,38.20 786.12,44.91 787.25,51.56 788.38,58.13 789.51,64.63 790.64,71.06 791.76,77.43 792.89,83.72 794.02,89.95 795.15,96.11 796.27,102.20 797.40,108.23 798.53,114.20 799.66,120.10 800.79,125.93 801.91,131.71 803.04,137.42 804.17,143.07 805.30,148.66 806.42,154.19 807.55,159.67 808.68,165.08 809.81,170.43 810.94,175.73 812.06,180.97 813.19,186.16 814.32,191.28 815.45,196.36 816.57,201.38 817.70,206.34 818.83,211.25 819.96,216.11 821.09,220.92 822.21,225.68 823.34,230.38 824.47,235.04 825.60,239.64 826.72,244.20 827.85,248.70 828.98,253.16 830.11,257.57 831.24,261.93 832.36,266.25 833.49,270.52 834.62,274.74 835.75,278.92 836.88,283.05 838.00,287.14 839.13,291.19 840.26,295.19 841.39,299.15 842.51,303.07 843.64,306.94 844.77,310.77 845.90,314.57 847.03,318.32 848.15,322.03 849.28,325.70 850.41,329.33 851.54,332.92 852.66,336.48 853.79,340.00 854.92,343.47 856.05,346.91 857.18,350.32 858.30,353.69 859.43,357.02 860.56,360.31 861.69,363.58 862.81,366.80 863.94,369.99 865.07,373.15 866.20,376.27 867.33,379.36 868.45,382.42 869.58,385.44 870.71,388.43 871.84,391.39 872.96,394.32 874.09,397.21 875.22,400.08 876.35,402.91 877.48,405.72 878.60,408.49 879.73,411.23 880.86,413.95 881.99,416.63 883.11,419.29 884.24,421.92 885.37,424.52 886.50,427.09 887.63,429.63 888.75,432.15 889.88,434.64 891.01,437.11 892.14,439.54 893.26,441.95 894.39,444.34 895.52,446.70 896.65,449.03 897.78,451.34 898.90,453.62 900.03,455.88 901.16,458.12 902.29,460.33 903.41,462.52 904.54,464.68 905.67,466.82 906.80,468.94 907.93,471.04 909.05,473.11 910.18,475.16 911.31,477.19 912.44,479.20 913.56,481.18 914.69,483.15 915.82,485.09 916.95,487.01 918.08,488.91 919.20,490.80 920.33,492.66 921.46,494.50 922.59,496.32 923.71,498.12 924.84,499.90 925.97,501.67 927.10,503.41 928.23,505.14 929.35,506.84 930.48,508.53 931.61,510.20 932.74,511.86 933.86,513.49 934.99,515.11 936.12,516.71 937.25,518.29 938.38,519.86 939.50,521.41 940.63,522.94 941.76,524.46 942.89,525.96 944.01,527.44 945.14,528.91 946.27,530.36 947.40,531.80 948.53,533.22 949.65,534.62 950.78,536.02 951.91,537.39 953.04,538.75 954.16,540.10 955.29,541.43 956.42,542.75 957.55,544.05 958.68,545.34 959.80,546.62 960.93,547.88 962.06,549.13 963.19,550.37 964.31,551.59 965.44,552.80 966.57,553.99 967.70,555.18 968.83,556.35 969.95,557.50 971.08,558.65 972.21,559.78 973.34,560.90 974.46,562.01 975.59,563.11 976.72,564.20 977.85,565.27 978.98,566.33 980.10,567.38 981.23,568.42 982.36,569.45 983.49,570.47 984.61,571.47 985.74,572.47 986.87,573.45 988.00,574.43 989.13,575.39 990.25,576.35 991.38,577.29 992.51,578.22 993.64,579.15 994.76,580.06 995.89,580.96 997.02,581.86 998.15,582.74 999.28,583.62 1000.40,584.48 1001.53,585.34 1002.66,586.19 1003.79,587.02 1004.91,587.85 1006.04,588.67 1007.17,589.48 1008.30,590.29 1009.43,591.08 1010.55,591.86 1011.68,592.64 1012.81,593.41 1013.94,594.17 1015.06,594.92 1016.19,595.67 1017.32,596.40 1018.45,597.13 1019.58,597.85 1020.70,598.56 1021.83,599.27 1022.96,599.97 1024.09,600.66 1025.21,601.34 1026.34,602.02 1027.47,602.68 1028.60,603.34 1029.73,604.00 1030.85,604.65 1031.98,605.28 1033.11,605.92 1034.24,606.54 1035.36,607.16 1036.49,607.78 1037.62,608.38 1038.75,608.98 1039.88,609.58 1041.00,610.16 1042.13,610.74 1043.26,611.32 1044.39,611.89 1045.51,612.45 1046.64,613.00 1047.77,613.55 1048.90,614.10 1050.03,614.64 1051.15,615.17 1052.28,615.70 1053.41,616.22 1054.54,616.73 1055.66,617.24 1056.79,617.75 1057.92,618.25 1059.05,618.74 1060.18,619.23 1061.30,619.71 1062.43,620.19 1063.56,620.67 1064.69,621.13 1065.82,621.60 1066.94,622.06 1068.07,622.51 1069.20,622.96 1070.33,623.40 1071.45,623.84 1072.58,624.27 1073.71,624.70 1074.84,625.13 1075.97,625.55 1077.09,625.96 1078.22,626.37 1079.35,626.78 1080.48,627.18 1081.60,627.58 1082.73,627.97 1083.86,628.36 1084.99,628.75 1086.12,629.13 1087.24,629.51 1088.37,629.88 1089.50,630.25 1090.63,630.62 1091.75,630.98 1092.88,631.33 1094.01,631.69 1095.14,632.04 1096.27,632.38 1097.39,632.73 1098.52,633.07 1099.65,633.40 1100.78,633.73 1101.90,634.06 1103.03,634.38 1104.16,634.70 1105.29,635.02 1106.42,635.34 1107.54,635.65 1108.67,635.95 1109.80,636.26 1110.93,636.56 1112.05,636.86 1113.18,637.15 1114.31,637.44 1115.44,637.73 1116.57,638.02 1117.69,638.30 1118.82,638.58 1119.95,638.85 1121.08,639.13 1122.20,639.40 1123.33,639.66 1124.46,639.93 1125.59,640.19 1126.72,640.45 1127.84,640.70 1128.97,640.96 1130.10,641.21 1131.23,641.45 1132.35,641.70 1133.48,641.94 1134.61,642.18 1135.74,642.42 1136.87,642.65 1137.99,642.89 1139.12,643.11 1140.25,643.34 1141.38,643.57 1142.50,643.79 1143.63,644.01 1144.76,644.23 1145.89,644.44 1147.02,644.66 1148.14,644.87 1149.27,645.07 1150.40,645.28 1151.53,645.48 1152.65,645.69 1153.78,645.89 1154.91,646.08 1156.04,646.28 1157.17,646.47 1158.29,646.66 1159.42,646.85 1160.55,647.04 1161.68,647.22 1162.80,647.41 1163.93,647.59 1165.06,647.77 1166.19,647.95 1167.32,648.12 1168.44,648.29 1169.57,648.47 1170.70,648.64 1171.83,648.80 1172.95,648.97 1174.08,649.13 1175.21,649.30 1176.34,649.46 1177.47,649.62 1178.59,649.78 1179.72,649.93 1180.85,650.09 1181.98,650.24 1183.10,650.39 1184.23,650.54 1185.36,650.69 1186.49,650.83 1187.62,650.98 1188.74,651.12 1189.87,651.26 1191.00,651.40 1192.13,651.54 1193.25,651.68 1194.38,651.81 1195.51,651.94 1196.64,652.08 1197.77,652.21 1198.89,652.34 1200.02,652.47 1201.15,652.59 1202.28,652.72 1203.40,652.84 1204.53,652.97 1205.66,653.09 1206.79,653.21 1207.92,653.33 1209.04,653.44 1210.17,653.56 1211.30,653.68 1212.43,653.79 1213.55,653.90 1214.68,654.01 1215.81,654.12 1216.94,654.23 1218.07,654.34 1219.19,654.45 1220.32,654.55 1221.45,654.66 1222.58,654.76 1223.70,654.86 1224.83,654.97 1225.96,655.07 1227.09,655.16 1228.22,655.26 1229.34,655.36 1230.47,655.46 1231.60,655.55 1232.73,655.64 1233.85,655.74 1234.98,655.83 1236.11,655.92 1237.24,656.01 1238.37,656.10 1239.49,656.19 1240.62,656.27 1241.75,656.36 1242.88,656.44 1244.00,656.53 1245.13,656.61 1246.26,656.69 1247.39,656.78 1248.52,656.86 1249.64,656.94 1250.77,657.02 1251.90,657.09 1253.03,657.17 1254.15,657.25 1255.28,657.32 1256.41,657.40 1257.54,657.47 1258.67,657.55 1259.79,657.62 1260.92,657.69 1262.05,657.76 1263.18,657.83 1264.30,657.90 1265.43,657.97 1266.56,658.04 1267.69,658.10 1268.82,658.17 1269.94,658.24 1271.07,658.30 1272.20,658.37 1273.33,658.43 1274.45,658.49 1275.58,658.55 1276.71,658.62 1277.84,658.68 1278.97,658.74 1280.09,658.80 1281.22,658.86 1282.35,658.91 1283.48,658.97 1284.61,659.03 1285.73,659.09 1286.86,659.14 1287.99,659.20 1289.12,659.25 1290.24,659.31 1291.37,659.36 1292.50,659.41 1293.63,659.47 1294.76,659.52 1295.88,659.57 1297.01,659.62 1298.14,659.67 1299.27,659.72 1300.39,659.77 1301.52,659.82 1302.65,659.86 1303.78,659.91 1304.91,659.96 1306.03,660.01 1307.16,660.05 1308.29,660.10 1309.42,660.14 1310.54,660.19 1311.67,660.23 1312.80,660.27 1313.93,660.32 1315.06,660.36 1316.18,660.40 1317.31,660.44 1318.44,660.49 1319.57,660.53 1320.69,660.57 1321.82,660.61 1322.95,660.65 1324.08,660.69 1325.21,660.73 1326.33,660.76 1327.46,660.80 1328.59,660.84 1329.72,660.88 1330.84,660.91 1331.97,660.95 1333.10,660.99 1334.23,661.02 1335.36,661.06 1336.48,661.09 1337.61,661.13 1338.74,661.16 1339.87,661.19 1340.99,661.23 1342.12,661.26 1343.25,661.29 1344.38,661.32 1345.51,661.36 1346.63,661.39 1347.76,661.42 1348.89,661.45 1350.02,661.48 1351.14,661.51 1352.27,661.54 1353.40,661.57 1354.53,661.60 1355.66,661.63 1356.78,661.66 1357.91,661.69 1359.04,661.71 1360.17,661.74 1361.29,661.77 1362.42,661.80 1363.55,661.82 1364.68,661.85 1365.81,661.88 1366.93,661.90 1368.06,661.93 1369.19,661.95 1370.32,661.98 1371.44,662.00 1372.57,662.03 1373.70,662.05 1374.83,662.08 1375.96,662.10 1377.08,662.12 1378.21,662.15 1379.34,662.17 1380.47,662.19 1381.59,662.22 1382.72,662.24 1383.85,662.26 1384.98,662.28 1386.11,662.30 1387.23,662.32 1388.36,662.35 1389.49,662.37 1390.62,662.39 1391.74,662.41 1392.87,662.43 1394.00,662.45"/>
<line x1="788.90" y1="656.80" x2="788.90" y2="580.90" stroke="#808080" stroke-width="4.1" stroke-dasharray="3.9 4.1"/>
<line x1="788.90" y1="53.70" x2="788.90" y2="473.00" stroke="#808080" stroke-width="4.1" stroke-dasharray="3.9 4.1"/>
<line x1="1132.00" y1="659.40" x2="1132.00" y2="567.00" stroke="#626262" stroke-width="4.1" stroke-dasharray="3.9 4.1"/>
<line x1="1132.00" y1="479.40" x2="1132.00" y2="177.00" stroke="#626262" stroke-width="4.1" stroke-dasharray="3.9 4.1"/>
<line x1="1393.50" y1="657.60" x2="1393.50" y2="541.40" stroke="#626262" stroke-width="4.1" stroke-dasharray="3.9 4.1"/>
<line x1="1393.50" y1="466.30" x2="1393.50" y2="177.00" stroke="#626262" stroke-width="4.1" stroke-dasharray="3.9 4.1"/>
<line x1="721.60" y1="593.30" x2="1423.40" y2="593.30" stroke="#848484" stroke-width="4.3" />
</g>
<rect x="1045" y="484.5" width="178" height="73.6" fill="#fff" fill-opacity="0.85"/>
<text x="1132.20" y="506.30" font-size="23.8" text-anchor="middle" >After</text>
<text x="1132.20" y="530.40" font-size="23.8" text-anchor="middle" >compensation</text>
<text x="1132.20" y="554.50" font-size="23.8" text-anchor="middle" >with CW sources</text>
<rect x="1262" y="469" width="155" height="70" fill="#fff" fill-opacity="0.85"/>
<text x="1413.60" y="487.10" font-size="23.8" text-anchor="end" >Before</text>
<text x="1413.60" y="511.20" font-size="23.8" text-anchor="end" >compensation</text>
<text x="1413.60" y="535.30" font-size="23.8" text-anchor="end" >[Ho2009]</text>
<rect x="725.5" y="477.5" width="156.2" height="101.5" fill="#fff" fill-opacity="0.85"/>
<text x="803.60" y="499.60" font-size="23.8" text-anchor="middle" >After</text>
<text x="803.60" y="523.50" font-size="23.8" text-anchor="middle" >compensation</text>
<text x="803.60" y="547.40" font-size="23.8" text-anchor="middle" >with pulsed</text>
<text x="803.60" y="571.30" font-size="23.8" text-anchor="middle" >sources</text>
<text x="810.60" y="623.00" font-size="28.05" text-anchor="start" >Significance &lt; 7</text>
<line x1="753.45" y1="664.65" x2="753.45" y2="678.75" stroke="#000" stroke-width="3.4" />
<text x="725.53" y="719.6" font-size="28.05">10</text><text x="757.62" y="699.90" font-size="19.6">−1</text>
<line x1="873.85" y1="664.65" x2="873.85" y2="678.75" stroke="#000" stroke-width="3.4" />
<text x="851.66" y="719.6" font-size="28.05">10</text><text x="883.75" y="699.90" font-size="19.6">0</text>
<line x1="994.25" y1="664.65" x2="994.25" y2="678.75" stroke="#000" stroke-width="3.4" />
<text x="972.06" y="719.6" font-size="28.05">10</text><text x="1004.15" y="699.90" font-size="19.6">1</text>
<line x1="1114.65" y1="664.65" x2="1114.65" y2="678.75" stroke="#000" stroke-width="3.4" />
<text x="1092.46" y="719.6" font-size="28.05">10</text><text x="1124.55" y="699.90" font-size="19.6">2</text>
<line x1="1235.05" y1="664.65" x2="1235.05" y2="678.75" stroke="#000" stroke-width="3.4" />
<text x="1212.86" y="719.6" font-size="28.05">10</text><text x="1244.95" y="699.90" font-size="19.6">3</text>
<line x1="1355.45" y1="664.65" x2="1355.45" y2="678.75" stroke="#000" stroke-width="3.4" />
<text x="1333.26" y="719.6" font-size="28.05">10</text><text x="1365.35" y="699.90" font-size="19.6">4</text>
<line x1="726.74" y1="664.65" x2="726.74" y2="672.95" stroke="#000" stroke-width="2.6" />
<line x1="734.80" y1="664.65" x2="734.80" y2="672.95" stroke="#000" stroke-width="2.6" />
<line x1="741.78" y1="664.65" x2="741.78" y2="672.95" stroke="#000" stroke-width="2.6" />
<line x1="747.94" y1="664.65" x2="747.94" y2="672.95" stroke="#000" stroke-width="2.6" />
<line x1="789.69" y1="664.65" x2="789.69" y2="672.95" stroke="#000" stroke-width="2.6" />
<line x1="810.90" y1="664.65" x2="810.90" y2="672.95" stroke="#000" stroke-width="2.6" />
<line x1="825.94" y1="664.65" x2="825.94" y2="672.95" stroke="#000" stroke-width="2.6" />
<line x1="837.61" y1="664.65" x2="837.61" y2="672.95" stroke="#000" stroke-width="2.6" />
<line x1="847.14" y1="664.65" x2="847.14" y2="672.95" stroke="#000" stroke-width="2.6" />
<line x1="855.20" y1="664.65" x2="855.20" y2="672.95" stroke="#000" stroke-width="2.6" />
<line x1="862.18" y1="664.65" x2="862.18" y2="672.95" stroke="#000" stroke-width="2.6" />
<line x1="868.34" y1="664.65" x2="868.34" y2="672.95" stroke="#000" stroke-width="2.6" />
<line x1="910.09" y1="664.65" x2="910.09" y2="672.95" stroke="#000" stroke-width="2.6" />
<line x1="931.30" y1="664.65" x2="931.30" y2="672.95" stroke="#000" stroke-width="2.6" />
<line x1="946.34" y1="664.65" x2="946.34" y2="672.95" stroke="#000" stroke-width="2.6" />
<line x1="958.01" y1="664.65" x2="958.01" y2="672.95" stroke="#000" stroke-width="2.6" />
<line x1="967.54" y1="664.65" x2="967.54" y2="672.95" stroke="#000" stroke-width="2.6" />
<line x1="975.60" y1="664.65" x2="975.60" y2="672.95" stroke="#000" stroke-width="2.6" />
<line x1="982.58" y1="664.65" x2="982.58" y2="672.95" stroke="#000" stroke-width="2.6" />
<line x1="988.74" y1="664.65" x2="988.74" y2="672.95" stroke="#000" stroke-width="2.6" />
<line x1="1030.49" y1="664.65" x2="1030.49" y2="672.95" stroke="#000" stroke-width="2.6" />
<line x1="1051.70" y1="664.65" x2="1051.70" y2="672.95" stroke="#000" stroke-width="2.6" />
<line x1="1066.74" y1="664.65" x2="1066.74" y2="672.95" stroke="#000" stroke-width="2.6" />
<line x1="1078.41" y1="664.65" x2="1078.41" y2="672.95" stroke="#000" stroke-width="2.6" />
<line x1="1087.94" y1="664.65" x2="1087.94" y2="672.95" stroke="#000" stroke-width="2.6" />
<line x1="1096.00" y1="664.65" x2="1096.00" y2="672.95" stroke="#000" stroke-width="2.6" />
<line x1="1102.98" y1="664.65" x2="1102.98" y2="672.95" stroke="#000" stroke-width="2.6" />
<line x1="1109.14" y1="664.65" x2="1109.14" y2="672.95" stroke="#000" stroke-width="2.6" />
<line x1="1150.89" y1="664.65" x2="1150.89" y2="672.95" stroke="#000" stroke-width="2.6" />
<line x1="1172.10" y1="664.65" x2="1172.10" y2="672.95" stroke="#000" stroke-width="2.6" />
<line x1="1187.14" y1="664.65" x2="1187.14" y2="672.95" stroke="#000" stroke-width="2.6" />
<line x1="1198.81" y1="664.65" x2="1198.81" y2="672.95" stroke="#000" stroke-width="2.6" />
<line x1="1208.34" y1="664.65" x2="1208.34" y2="672.95" stroke="#000" stroke-width="2.6" />
<line x1="1216.40" y1="664.65" x2="1216.40" y2="672.95" stroke="#000" stroke-width="2.6" />
<line x1="1223.38" y1="664.65" x2="1223.38" y2="672.95" stroke="#000" stroke-width="2.6" />
<line x1="1229.54" y1="664.65" x2="1229.54" y2="672.95" stroke="#000" stroke-width="2.6" />
<line x1="1271.29" y1="664.65" x2="1271.29" y2="672.95" stroke="#000" stroke-width="2.6" />
<line x1="1292.50" y1="664.65" x2="1292.50" y2="672.95" stroke="#000" stroke-width="2.6" />
<line x1="1307.54" y1="664.65" x2="1307.54" y2="672.95" stroke="#000" stroke-width="2.6" />
<line x1="1319.21" y1="664.65" x2="1319.21" y2="672.95" stroke="#000" stroke-width="2.6" />
<line x1="1328.74" y1="664.65" x2="1328.74" y2="672.95" stroke="#000" stroke-width="2.6" />
<line x1="1336.80" y1="664.65" x2="1336.80" y2="672.95" stroke="#000" stroke-width="2.6" />
<line x1="1343.78" y1="664.65" x2="1343.78" y2="672.95" stroke="#000" stroke-width="2.6" />
<line x1="1349.94" y1="664.65" x2="1349.94" y2="672.95" stroke="#000" stroke-width="2.6" />
<line x1="1391.69" y1="664.65" x2="1391.69" y2="672.95" stroke="#000" stroke-width="2.6" />
<line x1="1412.90" y1="664.65" x2="1412.90" y2="672.95" stroke="#000" stroke-width="2.6" />
<line x1="707.50" y1="664.30" x2="721.60" y2="664.30" stroke="#000" stroke-width="3.4" />
<text x="693.30" y="674.30" font-size="28.05" text-anchor="end" >0</text>
<line x1="707.50" y1="562.55" x2="721.60" y2="562.55" stroke="#000" stroke-width="3.4" />
<text x="693.30" y="572.55" font-size="28.05" text-anchor="end" >10</text>
<line x1="707.50" y1="460.80" x2="721.60" y2="460.80" stroke="#000" stroke-width="3.4" />
<text x="693.30" y="470.80" font-size="28.05" text-anchor="end" >20</text>
<line x1="707.50" y1="359.05" x2="721.60" y2="359.05" stroke="#000" stroke-width="3.4" />
<text x="693.30" y="369.05" font-size="28.05" text-anchor="end" >30</text>
<line x1="707.50" y1="257.30" x2="721.60" y2="257.30" stroke="#000" stroke-width="3.4" />
<text x="693.30" y="267.30" font-size="28.05" text-anchor="end" >40</text>
<line x1="707.50" y1="155.55" x2="721.60" y2="155.55" stroke="#000" stroke-width="3.4" />
<text x="693.30" y="165.55" font-size="28.05" text-anchor="end" >50</text>
<line x1="707.50" y1="53.80" x2="721.60" y2="53.80" stroke="#000" stroke-width="3.4" />
<text x="693.30" y="63.80" font-size="28.05" text-anchor="end" >60</text>
<rect x="721.6" y="53.8" width="701.80" height="610.85" fill="none" stroke="#000" stroke-width="3.45"/>
<rect x="916.1" y="69.1" width="345.6" height="206.2" rx="6" fill="#fff" stroke="#d3d3d3" stroke-width="4.0"/>
<line x1="924.90" y1="90.20" x2="985.10" y2="90.20" stroke="#000000" stroke-width="4.5" />
<text x="1005.50" y="99.90" font-size="28.05" text-anchor="start" >Ho2009</text>
<line x1="924.90" y1="129.90" x2="985.10" y2="129.90" stroke="#0000a7" stroke-width="4.5" />
<text x="1005.50" y="139.60" font-size="28.05" text-anchor="start" >Steinlechner2017</text>
<line x1="924.90" y1="169.60" x2="985.10" y2="169.60" stroke="#008176" stroke-width="4.5" />
<text x="1005.50" y="179.30" font-size="28.05" text-anchor="start" >Spiess2021-med</text>
<line x1="924.90" y1="209.30" x2="985.10" y2="209.30" stroke="#c1272d" stroke-width="4.5" />
<text x="1005.50" y="219.00" font-size="28.05" text-anchor="start" >Spiess2021-low</text>
<line x1="924.90" y1="249.00" x2="985.10" y2="249.00" stroke="#eecc16" stroke-width="4.5" />
<text x="1005.50" y="258.70" font-size="28.05" text-anchor="start" >Ecker2021</text>
<text x="1072.50" y="763.80" font-size="28.05" text-anchor="middle" >Residual clock frequency difference (ns/s)</text>
<text transform="translate(640.00,359.00) rotate(-90)" font-size="28.05" text-anchor="middle">Correlation peak significance</text>
<text x="610.70" y="59.00" font-size="28.05" text-anchor="start" >(c)</text>
</g>
</svg>
</body></html>
